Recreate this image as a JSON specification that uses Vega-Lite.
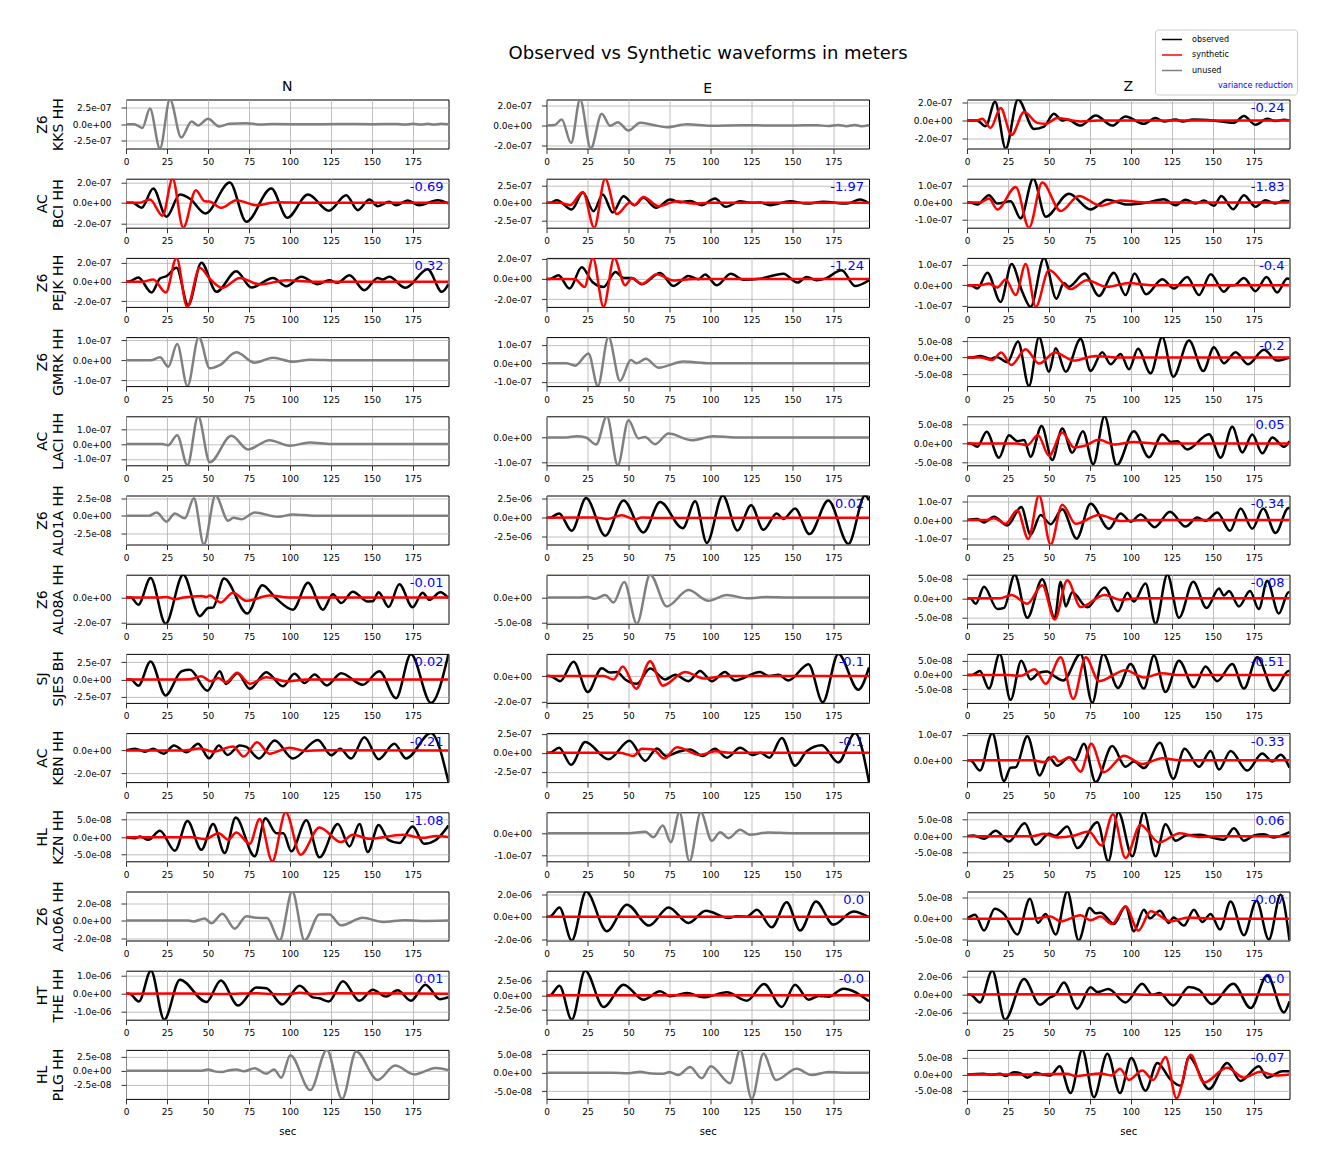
{
"$schema":"https://vega.github.io/schema/vega-lite/v6.json",
"autosize":{"type":"pad"},
"padding":{"left":34,"top":28.5,"right":10,"bottom":10},
"background":"white",
"title":{"text":"Observed vs Synthetic waveforms in meters","fontSize":18,"fontWeight":"normal","font":"DejaVu Sans","color":"black","anchor":"middle","offset":4,"dx":42,"dy":38},
"config":{"font":"DejaVu Sans","view":{"stroke":"black","strokeWidth":1},
"axis":{"grid":true,"gridColor":"#b0b0b0","gridWidth":0.8,"domain":false,"tickColor":"black","tickSize":5,"tickWidth":0.8,"labelFontSize":9,"labelColor":"black","labelPadding":4,"titleFontWeight":"normal","titleColor":"black","titleFontSize":14,"titleLineHeight":16,"titlePadding":7,"labelFlush":false,"labelOverlap":false},
"axisY":{"labelPadding":10}},
"datasets":{
"vr":[{"p":"r2N","vr":"-0.69"},{"p":"r3N","vr":"0.32"},{"p":"r7N","vr":"-0.01"},{"p":"r8N","vr":"0.02"},{"p":"r9N","vr":"-0.21"},{"p":"r10N","vr":"-1.08"},{"p":"r12N","vr":"0.01"},{"p":"r2E","vr":"-1.97"},{"p":"r3E","vr":"-1.24"},{"p":"r6E","vr":"0.02"},{"p":"r8E","vr":"-0.1"},{"p":"r9E","vr":"-0.1"},{"p":"r11E","vr":"0.0"},{"p":"r12E","vr":"-0.0"},{"p":"r1Z","vr":"-0.24"},{"p":"r2Z","vr":"-1.83"},{"p":"r3Z","vr":"-0.4"},{"p":"r4Z","vr":"-0.2"},{"p":"r5Z","vr":"0.05"},{"p":"r6Z","vr":"-0.34"},{"p":"r7Z","vr":"-0.08"},{"p":"r8Z","vr":"-0.51"},{"p":"r9Z","vr":"-0.33"},{"p":"r10Z","vr":"0.06"},{"p":"r11Z","vr":"-0.07"},{"p":"r12Z","vr":"-0.0"},{"p":"r13Z","vr":"-0.07"}],
"r1N_u":[{"t":0,"v":0},{"t":5,"v":0},{"t":10,"v":-0.56e-7},{"t":14.6,"v":2.35e-7},{"t":20.7,"v":-3.67e-7},{"t":26.8,"v":3.72e-7},{"t":33.7,"v":-2.0e-7},{"t":40,"v":0.4e-7},{"t":44,"v":-0.2e-7},{"t":50,"v":0.8e-7},{"t":56.8,"v":-0.35e-7},{"t":63,"v":0.05e-7},{"t":73.4,"v":0.15e-7},{"t":82,"v":-0.05e-7},{"t":90,"v":0.03e-7},{"t":110,"v":-0.03e-7},{"t":130,"v":0.02e-7},{"t":150,"v":0},{"t":165,"v":0.03e-7},{"t":170,"v":-0.05e-7},{"t":175,"v":0.05e-7},{"t":180,"v":-0.06e-7},{"t":184,"v":0.06e-7},{"t":188,"v":-0.06e-7},{"t":192,"v":0.06e-7},{"t":196.7,"v":-0.03e-7}],
"r2N_o":[{"t":0,"v":0},{"t":4,"v":0},{"t":9.5,"v":-0.48e-7},{"t":16.6,"v":1.39e-7},{"t":24.7,"v":-1.35e-7},{"t":32.9,"v":0.8e-7},{"t":39,"v":0.4e-7},{"t":48.5,"v":-1.03e-7},{"t":63.3,"v":1.97e-7},{"t":73.4,"v":-1.84e-7},{"t":88.6,"v":1.39e-7},{"t":98.4,"v":-1.45e-7},{"t":111,"v":0.8e-7},{"t":123.7,"v":-0.77e-7},{"t":134.3,"v":0.74e-7},{"t":141.4,"v":-0.71e-7},{"t":148.5,"v":0.32e-7},{"t":153.5,"v":-0.32e-7},{"t":160.6,"v":0.1e-7},{"t":164.7,"v":-0.23e-7},{"t":171.8,"v":0.23e-7},{"t":178.9,"v":-0.23e-7},{"t":190,"v":0.26e-7},{"t":196.7,"v":-0.06e-7}],
"r2N_s":[{"t":0,"v":0},{"t":8,"v":0},{"t":14.6,"v":0.32e-7},{"t":22.3,"v":-1.26e-7},{"t":28.4,"v":2.35e-7},{"t":34.9,"v":-2.42e-7},{"t":42.6,"v":1.23e-7},{"t":48,"v":0.15e-7},{"t":51,"v":0.12e-7},{"t":58.2,"v":-0.48e-7},{"t":67.3,"v":0.26e-7},{"t":79.5,"v":-0.23e-7},{"t":92,"v":0.06e-7},{"t":110,"v":0},{"t":196.7,"v":0}],
"r3N_o":[{"t":0,"v":0},{"t":3,"v":0.1e-7},{"t":7.5,"v":0.45e-7},{"t":15.6,"v":-1.1e-7},{"t":20.7,"v":0.34e-7},{"t":24.7,"v":0.59e-7},{"t":30.8,"v":1.45e-7},{"t":37.9,"v":-2.41e-7},{"t":46,"v":1.97e-7},{"t":55.2,"v":-1.03e-7},{"t":67.3,"v":1.1e-7},{"t":76.5,"v":-0.59e-7},{"t":89.7,"v":0.41e-7},{"t":97.8,"v":-0.45e-7},{"t":106.9,"v":0.52e-7},{"t":117,"v":-0.24e-7},{"t":124,"v":0.17e-7},{"t":129,"v":-0.1e-7},{"t":136.3,"v":0.69e-7},{"t":145.4,"v":-0.86e-7},{"t":153.5,"v":0.41e-7},{"t":156.4,"v":0.24e-7},{"t":160.6,"v":0.52e-7},{"t":170.4,"v":-0.62e-7},{"t":184,"v":1.31e-7},{"t":192.7,"v":-1.03e-7},{"t":196.7,"v":-0.24e-7}],
"r3N_s":[{"t":0,"v":0},{"t":10,"v":0.02e-7},{"t":16.6,"v":0.24e-7},{"t":24.3,"v":-1.1e-7},{"t":30.8,"v":2.48e-7},{"t":37.3,"v":-2.59e-7},{"t":45,"v":1.45e-7},{"t":51,"v":0.34e-7},{"t":58.8,"v":-0.62e-7},{"t":69.4,"v":0.41e-7},{"t":81.5,"v":-0.28e-7},{"t":97.8,"v":0.17e-7},{"t":115,"v":0},{"t":196.7,"v":0}],
"r4N_u":[{"t":0,"v":0},{"t":15,"v":0},{"t":20.7,"v":0.15e-7},{"t":25.8,"v":-0.32e-7},{"t":31.2,"v":0.81e-7},{"t":37.5,"v":-1.29e-7},{"t":44.4,"v":1.16e-7},{"t":51.1,"v":-0.4e-7},{"t":57.2,"v":-0.24e-7},{"t":67.3,"v":0.4e-7},{"t":78.5,"v":-0.12e-7},{"t":89.7,"v":0.13e-7},{"t":101.8,"v":-0.07e-7},{"t":112,"v":0.03e-7},{"t":130,"v":0},{"t":196.7,"v":0}],
"r5N_u":[{"t":0,"v":0},{"t":22,"v":0},{"t":25.8,"v":-0.07e-7},{"t":31.2,"v":0.61e-7},{"t":37.5,"v":-1.44e-7},{"t":44,"v":1.89e-7},{"t":51.1,"v":-1.24e-7},{"t":64.3,"v":0.56e-7},{"t":74.4,"v":-0.36e-7},{"t":87.6,"v":0.27e-7},{"t":99.8,"v":-0.11e-7},{"t":112,"v":0.11e-7},{"t":125,"v":0},{"t":196.7,"v":0}],
"r6N_u":[{"t":0,"v":0},{"t":14,"v":0},{"t":18.7,"v":0.47e-8},{"t":24.7,"v":-0.84e-8},{"t":29.8,"v":0.33e-8},{"t":35.9,"v":-0.37e-8},{"t":41.4,"v":2.52e-8},{"t":47.5,"v":-4.11e-8},{"t":54.6,"v":2.9e-8},{"t":62.3,"v":-0.7e-8},{"t":65.5,"v":-0.3e-8},{"t":70.5,"v":-0.5e-8},{"t":78.5,"v":0.47e-8},{"t":92.7,"v":-0.14e-8},{"t":101.8,"v":0.19e-8},{"t":115,"v":0},{"t":196.7,"v":0}],
"r7N_o":[{"t":0,"v":0},{"t":3,"v":0},{"t":7.5,"v":-0.57e-7},{"t":15,"v":1.56e-7},{"t":24.1,"v":-2.08e-7},{"t":34.9,"v":1.82e-7},{"t":45,"v":-1.48e-7},{"t":50.1,"v":-0.83e-7},{"t":53,"v":-0.8e-7},{"t":59.8,"v":1.51e-7},{"t":74,"v":-1.27e-7},{"t":83.2,"v":0.99e-7},{"t":91,"v":0},{"t":101.8,"v":-0.96e-7},{"t":111,"v":1.17e-7},{"t":120.1,"v":-0.96e-7},{"t":126.2,"v":0.26e-7},{"t":131.2,"v":-0.44e-7},{"t":138.3,"v":0.47e-7},{"t":147.5,"v":-0.31e-7},{"t":150.5,"v":-0.3e-7},{"t":154.1,"v":0.42e-7},{"t":160.2,"v":-0.75e-7},{"t":166.7,"v":1.06e-7},{"t":174.8,"v":-0.78e-7},{"t":180.9,"v":0.39e-7},{"t":185,"v":-0.18e-7},{"t":191.7,"v":0.42e-7},{"t":196.7,"v":-0.05e-7}],
"r7N_s":[{"t":0,"v":0},{"t":20,"v":0},{"t":24.7,"v":0.05e-7},{"t":29.8,"v":-0.13e-7},{"t":35,"v":0},{"t":46,"v":0.13e-7},{"t":49,"v":0.05e-7},{"t":51.1,"v":0.16e-7},{"t":57.8,"v":-0.39e-7},{"t":65.3,"v":0.39e-7},{"t":73.4,"v":-0.26e-7},{"t":87.6,"v":0.16e-7},{"t":100,"v":0},{"t":196.7,"v":0}],
"r8N_o":[{"t":0,"v":0},{"t":3,"v":0},{"t":7.5,"v":-0.87e-7},{"t":15,"v":2.62e-7},{"t":24.1,"v":-2.28e-7},{"t":33.9,"v":1.21e-7},{"t":39,"v":1.41e-7},{"t":49.7,"v":-1.6e-7},{"t":57.2,"v":1.21e-7},{"t":60.9,"v":-0.63e-7},{"t":68,"v":0.92e-7},{"t":75.5,"v":-1.31e-7},{"t":85.6,"v":1.07e-7},{"t":95.7,"v":-0.97e-7},{"t":102.8,"v":0.83e-7},{"t":108.9,"v":-0.49e-7},{"t":115,"v":0.73e-7},{"t":122.5,"v":-0.83e-7},{"t":131.2,"v":0.92e-7},{"t":144.4,"v":-0.73e-7},{"t":154.5,"v":1.21e-7},{"t":164.7,"v":-2.67e-7},{"t":173.8,"v":3.64e-7},{"t":186,"v":-3.35e-7},{"t":196.7,"v":3.7e-7}],
"r8N_s":[{"t":0,"v":0},{"t":30,"v":0},{"t":39,"v":0.05e-7},{"t":46,"v":0.49e-7},{"t":51.7,"v":-0.24e-7},{"t":56.4,"v":0.24e-7},{"t":60.9,"v":-0.39e-7},{"t":67.8,"v":0.97e-7},{"t":75.5,"v":-0.58e-7},{"t":85.6,"v":0.34e-7},{"t":97.8,"v":-0.24e-7},{"t":110,"v":0},{"t":196.7,"v":0}],
"r9N_o":[{"t":0,"v":0},{"t":5.5,"v":0.14e-7},{"t":11.6,"v":-0.11e-7},{"t":16.6,"v":0.14e-7},{"t":23.1,"v":-0.29e-7},{"t":29.2,"v":0.43e-7},{"t":36.9,"v":-0.17e-7},{"t":44,"v":0.57e-7},{"t":50.7,"v":-0.69e-7},{"t":56.6,"v":0.43e-7},{"t":61.9,"v":-0.4e-7},{"t":69.4,"v":0.43e-7},{"t":73.4,"v":0.3e-7},{"t":81.1,"v":-0.71e-7},{"t":90.7,"v":0.86e-7},{"t":101.8,"v":-0.71e-7},{"t":117,"v":0.91e-7},{"t":125.2,"v":-0.43e-7},{"t":130.6,"v":0.14e-7},{"t":137.3,"v":-0.71e-7},{"t":145.4,"v":1.14e-7},{"t":154.1,"v":-0.77e-7},{"t":163.7,"v":0.57e-7},{"t":170.8,"v":-0.71e-7},{"t":186,"v":1.51e-7},{"t":196.7,"v":-2.77e-7}],
"r9N_s":[{"t":0,"v":0},{"t":35,"v":0},{"t":45,"v":0.17e-7},{"t":53.1,"v":-0.11e-7},{"t":65.3,"v":0.34e-7},{"t":71.8,"v":-0.54e-7},{"t":79.9,"v":0.71e-7},{"t":87.6,"v":-0.29e-7},{"t":99.8,"v":0.23e-7},{"t":109.9,"v":-0.06e-7},{"t":120,"v":0.02e-7},{"t":196.7,"v":0}],
"r10N_o":[{"t":0,"v":0},{"t":5.5,"v":-0.3e-8},{"t":8.5,"v":0.2e-8},{"t":13.6,"v":-0.75e-8},{"t":20.7,"v":1.79e-8},{"t":29.8,"v":-3.87e-8},{"t":37.5,"v":4.62e-8},{"t":46,"v":-3.58e-8},{"t":53.1,"v":3.77e-8},{"t":60.2,"v":-4.53e-8},{"t":66.9,"v":5.57e-8},{"t":78.5,"v":-5.47e-8},{"t":85,"v":5.38e-8},{"t":91.7,"v":1.13e-8},{"t":96,"v":1.1e-8},{"t":100.8,"v":-4.06e-8},{"t":110,"v":4.81e-8},{"t":118,"v":-5.75e-8},{"t":129.2,"v":3.77e-8},{"t":136.3,"v":-2.64e-8},{"t":142.4,"v":3.77e-8},{"t":147.5,"v":-4.25e-8},{"t":154.1,"v":3.49e-8},{"t":160,"v":-0.8e-8},{"t":166.7,"v":-1.7e-8},{"t":174.8,"v":3.02e-8},{"t":181.9,"v":-1.89e-8},{"t":189,"v":-0.8e-8},{"t":196.7,"v":3.3e-8}],
"r10N_s":[{"t":0,"v":0},{"t":40,"v":0},{"t":48,"v":-0.57e-8},{"t":56.6,"v":1.13e-8},{"t":62.3,"v":-0.75e-8},{"t":67.3,"v":1.32e-8},{"t":75.5,"v":-1.89e-8},{"t":81.5,"v":5.19e-8},{"t":89.2,"v":-6.89e-8},{"t":97.4,"v":7.08e-8},{"t":106.5,"v":-5.0e-8},{"t":118,"v":2.74e-8},{"t":131.2,"v":-1.42e-8},{"t":138.3,"v":0.66e-8},{"t":148.5,"v":-0.47e-8},{"t":168.8,"v":0.66e-8},{"t":180.9,"v":-0.2e-8},{"t":189,"v":0.3e-8},{"t":196.7,"v":0}],
"r11N_u":[{"t":0,"v":0},{"t":38,"v":0},{"t":41,"v":-0.1e-8},{"t":48,"v":0.23e-8},{"t":52.1,"v":-0.31e-8},{"t":58.8,"v":0.77e-8},{"t":66.3,"v":-0.92e-8},{"t":73.4,"v":0.5e-8},{"t":79.5,"v":0.31e-8},{"t":86,"v":0.3e-8},{"t":93.7,"v":-2.27e-8},{"t":101.4,"v":3.31e-8},{"t":108.9,"v":-2.27e-8},{"t":118,"v":0.69e-8},{"t":124,"v":0.69e-8},{"t":131.2,"v":-0.54e-8},{"t":144.4,"v":0.31e-8},{"t":156.6,"v":-0.15e-8},{"t":170,"v":0.05e-8},{"t":180,"v":-0.05e-8},{"t":196.7,"v":0}],
"r12N_o":[{"t":0,"v":0},{"t":2,"v":0},{"t":7.9,"v":-0.43e-6},{"t":15.2,"v":1.28e-6},{"t":23.3,"v":-1.44e-6},{"t":32.9,"v":0.78e-6},{"t":49.1,"v":-0.46e-6},{"t":57.8,"v":0.74e-6},{"t":68.4,"v":-0.65e-6},{"t":79.5,"v":0.35e-6},{"t":85.6,"v":0.31e-6},{"t":95.3,"v":-0.59e-6},{"t":105.9,"v":0.44e-6},{"t":114,"v":-0.2e-6},{"t":118,"v":-0.25e-6},{"t":123.7,"v":-0.43e-6},{"t":132.3,"v":0.69e-6},{"t":142.4,"v":-0.39e-6},{"t":150.5,"v":0.22e-6},{"t":158.6,"v":-0.15e-6},{"t":165.7,"v":0.19e-6},{"t":173.8,"v":-0.39e-6},{"t":182.6,"v":0.5e-6},{"t":191.5,"v":-0.3e-6},{"t":196.7,"v":-0.19e-6}],
"r12N_s":[{"t":0,"v":0},{"t":40,"v":0.02e-6},{"t":60,"v":-0.01e-6},{"t":80,"v":0.03e-6},{"t":90,"v":-0.02e-6},{"t":98,"v":-0.03e-6},{"t":106,"v":0.06e-6},{"t":115,"v":-0.02e-6},{"t":125,"v":0.03e-6},{"t":196.7,"v":0}],
"r13N_u":[{"t":0,"v":0},{"t":45,"v":0},{"t":50.1,"v":0.23e-8},{"t":54,"v":-0.1e-8},{"t":58.2,"v":-0.23e-8},{"t":63,"v":0.1e-8},{"t":67.3,"v":0.23e-8},{"t":72,"v":-0.1e-8},{"t":78.5,"v":0.47e-8},{"t":85.6,"v":-0.52e-8},{"t":90.3,"v":0.23e-8},{"t":94.7,"v":-1.22e-8},{"t":100.2,"v":2.79e-8},{"t":112.4,"v":-3.43e-8},{"t":122.5,"v":3.72e-8},{"t":131.8,"v":-5.0e-8},{"t":140.4,"v":3.43e-8},{"t":153.5,"v":-1.63e-8},{"t":164.1,"v":0.93e-8},{"t":175.9,"v":-0.64e-8},{"t":189,"v":0.52e-8},{"t":196.7,"v":0.1e-8}],
"r1E_u":[{"t":0,"v":0},{"t":5,"v":0.05e-7},{"t":9.3,"v":0.6e-7},{"t":15,"v":-1.73e-7},{"t":20.5,"v":2.57e-7},{"t":27,"v":-2.27e-7},{"t":33.7,"v":1.17e-7},{"t":38.8,"v":-0.03e-7},{"t":43.5,"v":0.33e-7},{"t":50,"v":-0.5e-7},{"t":57.1,"v":0.27e-7},{"t":65,"v":0.05e-7},{"t":73.4,"v":-0.17e-7},{"t":85.6,"v":0.13e-7},{"t":100,"v":-0.02e-7},{"t":120,"v":0.02e-7},{"t":150,"v":0},{"t":165,"v":0.03e-7},{"t":172,"v":-0.05e-7},{"t":178,"v":0.05e-7},{"t":183,"v":-0.06e-7},{"t":188,"v":0.06e-7},{"t":192,"v":-0.06e-7},{"t":196.7,"v":0.03e-7}],
"r2E_o":[{"t":0,"v":0},{"t":2,"v":0},{"t":6.3,"v":0.38e-7},{"t":15.4,"v":-0.94e-7},{"t":22.2,"v":1.46e-7},{"t":28.7,"v":-1.18e-7},{"t":34.3,"v":1.18e-7},{"t":40.4,"v":-1.37e-7},{"t":47,"v":0.94e-7},{"t":53.7,"v":-0.33e-7},{"t":59.1,"v":0.71e-7},{"t":66.9,"v":-0.71e-7},{"t":75.4,"v":0.47e-7},{"t":81.5,"v":0.1e-7},{"t":87.6,"v":0.28e-7},{"t":94.7,"v":-0.33e-7},{"t":102.8,"v":0.61e-7},{"t":109.3,"v":-0.57e-7},{"t":118.1,"v":0.24e-7},{"t":124.2,"v":0},{"t":130.3,"v":0.05e-7},{"t":136.4,"v":-0.33e-7},{"t":148.6,"v":0.24e-7},{"t":158.7,"v":-0.1e-7},{"t":168.9,"v":0.15e-7},{"t":183.1,"v":-0.1e-7},{"t":191.3,"v":0.47e-7},{"t":196.7,"v":-0.1e-7}],
"r2E_s":[{"t":0,"v":0},{"t":8,"v":0},{"t":14.4,"v":-0.33e-7},{"t":22.2,"v":1.56e-7},{"t":29.1,"v":-3.54e-7},{"t":35.8,"v":3.44e-7},{"t":42.9,"v":-1.6e-7},{"t":51,"v":0.05e-7},{"t":53.5,"v":-0.33e-7},{"t":59.1,"v":0.85e-7},{"t":68.3,"v":-0.47e-7},{"t":79.5,"v":0.24e-7},{"t":89.6,"v":-0.1e-7},{"t":100,"v":0},{"t":196.7,"v":0}],
"r3E_o":[{"t":0,"v":0},{"t":2,"v":0},{"t":7.3,"v":0.36e-7},{"t":14,"v":-0.95e-7},{"t":21.5,"v":1.15e-7},{"t":28,"v":-0.3e-7},{"t":34.8,"v":-0.79e-7},{"t":42.1,"v":0.69e-7},{"t":47,"v":0.1e-7},{"t":52,"v":0.1e-7},{"t":58.1,"v":-0.52e-7},{"t":69.3,"v":0.59e-7},{"t":77.4,"v":-0.69e-7},{"t":86.6,"v":0.3e-7},{"t":92.7,"v":-0.03e-7},{"t":96.7,"v":0.43e-7},{"t":103.9,"v":-0.62e-7},{"t":112.4,"v":0.52e-7},{"t":120.1,"v":-0.07e-7},{"t":130.3,"v":0.03e-7},{"t":144.5,"v":0.52e-7},{"t":153,"v":-0.36e-7},{"t":158.7,"v":0.2e-7},{"t":164.8,"v":-0.13e-7},{"t":170,"v":0.03e-7},{"t":180,"v":0.85e-7},{"t":188.2,"v":-0.69e-7},{"t":196.7,"v":-0.13e-7}],
"r3E_s":[{"t":0,"v":0},{"t":12,"v":0},{"t":17.5,"v":-0.03e-7},{"t":23.2,"v":-0.79e-7},{"t":28.3,"v":2.07e-7},{"t":34.8,"v":-2.75e-7},{"t":41.3,"v":2.07e-7},{"t":48,"v":-0.62e-7},{"t":52,"v":0.1e-7},{"t":58.1,"v":-0.49e-7},{"t":67.3,"v":0.46e-7},{"t":77.4,"v":-0.16e-7},{"t":90,"v":0},{"t":196.7,"v":0}],
"r4E_u":[{"t":0,"v":0},{"t":12,"v":0},{"t":17.5,"v":-0.13e-7},{"t":25.6,"v":0.53e-7},{"t":31.3,"v":-1.24e-7},{"t":37.8,"v":1.42e-7},{"t":44.9,"v":-0.96e-7},{"t":51.4,"v":0.18e-7},{"t":55,"v":0},{"t":60.6,"v":0.24e-7},{"t":68.3,"v":-0.24e-7},{"t":83.5,"v":0.09e-7},{"t":100,"v":0},{"t":196.7,"v":0}],
"r5E_u":[{"t":0,"v":0},{"t":12,"v":0},{"t":18.5,"v":0.05e-7},{"t":24,"v":0},{"t":30.3,"v":-0.28e-7},{"t":36.8,"v":0.85e-7},{"t":43.5,"v":-1.12e-7},{"t":50,"v":0.69e-7},{"t":56.1,"v":-0.04e-7},{"t":60,"v":0.02e-7},{"t":66.3,"v":-0.27e-7},{"t":74.4,"v":0.16e-7},{"t":88.6,"v":-0.11e-7},{"t":101.8,"v":0.05e-7},{"t":115,"v":0},{"t":196.7,"v":0}],
"r6E_o":[{"t":0,"v":0},{"t":2,"v":0},{"t":7.7,"v":0.56e-6},{"t":15.4,"v":-1.72e-6},{"t":24.2,"v":2.59e-6},{"t":35.8,"v":-2.37e-6},{"t":47,"v":2.28e-6},{"t":59.1,"v":-1.94e-6},{"t":69.3,"v":2.07e-6},{"t":83.1,"v":-1.38e-6},{"t":90.7,"v":2.16e-6},{"t":97.8,"v":-3.32e-6},{"t":107.5,"v":2.93e-6},{"t":116.5,"v":-1.68e-6},{"t":124.8,"v":1.64e-6},{"t":132.3,"v":-1.6e-6},{"t":140.4,"v":0.56e-6},{"t":144.5,"v":-0.17e-6},{"t":151.6,"v":1.21e-6},{"t":160.4,"v":-2.16e-6},{"t":171.9,"v":2.28e-6},{"t":184.1,"v":-3.45e-6},{"t":194.3,"v":2.93e-6},{"t":196.7,"v":2.3e-6}],
"r6E_s":[{"t":0,"v":0},{"t":30,"v":0.02e-6},{"t":36.8,"v":-0.17e-6},{"t":45.9,"v":0.34e-6},{"t":54.1,"v":-0.22e-6},{"t":58,"v":0.04e-6},{"t":70,"v":-0.02e-6},{"t":196.7,"v":0}],
"r7E_u":[{"t":0,"v":0},{"t":20,"v":0},{"t":25,"v":0.1e-8},{"t":29.7,"v":-0.25e-8},{"t":35.8,"v":0.52e-8},{"t":40.9,"v":-0.97e-8},{"t":47.4,"v":3.12e-8},{"t":55.1,"v":-5.19e-8},{"t":63.2,"v":4.55e-8},{"t":73.4,"v":-1.75e-8},{"t":86.6,"v":1.49e-8},{"t":98.8,"v":-0.65e-8},{"t":110,"v":0.52e-8},{"t":122.2,"v":-0.15e-8},{"t":134.3,"v":0.12e-8},{"t":150,"v":0},{"t":196.7,"v":0}],
"r8E_o":[{"t":0,"v":0},{"t":2,"v":0},{"t":8.3,"v":-0.4e-7},{"t":16.5,"v":1.12e-7},{"t":25.2,"v":-1.25e-7},{"t":33.7,"v":0.61e-7},{"t":38.8,"v":0.27e-7},{"t":42.9,"v":0.32e-7},{"t":48,"v":-0.27e-7},{"t":55.1,"v":-0.61e-7},{"t":63.2,"v":0.59e-7},{"t":72.4,"v":-0.27e-7},{"t":78.5,"v":0.1e-7},{"t":86.6,"v":-0.4e-7},{"t":93.7,"v":0.4e-7},{"t":100.8,"v":-0.4e-7},{"t":108.9,"v":0.32e-7},{"t":115,"v":-0.35e-7},{"t":130.3,"v":0.32e-7},{"t":135.4,"v":0},{"t":141.5,"v":0.1e-7},{"t":147.6,"v":-0.35e-7},{"t":159.8,"v":0.93e-7},{"t":168.5,"v":-2.05e-7},{"t":178,"v":1.73e-7},{"t":190.2,"v":-1.07e-7},{"t":196.7,"v":0.67e-7}],
"r8E_s":[{"t":0,"v":0},{"t":35,"v":0},{"t":40.9,"v":-0.27e-7},{"t":46.5,"v":0.75e-7},{"t":54.7,"v":-0.99e-7},{"t":63.2,"v":1.15e-7},{"t":70.9,"v":-0.75e-7},{"t":84.6,"v":0.32e-7},{"t":95.7,"v":-0.19e-7},{"t":110,"v":0},{"t":196.7,"v":0}],
"r9E_o":[{"t":0,"v":0},{"t":2,"v":0},{"t":7.7,"v":0.65e-7},{"t":15,"v":-1.59e-7},{"t":23.6,"v":1.42e-7},{"t":37.8,"v":-0.86e-7},{"t":50.6,"v":1.59e-7},{"t":60.2,"v":-1.08e-7},{"t":67.3,"v":0.56e-7},{"t":73,"v":-0.43e-7},{"t":80,"v":0.1e-7},{"t":87.6,"v":0.43e-7},{"t":95.3,"v":-0.43e-7},{"t":102.8,"v":0.52e-7},{"t":110,"v":-0.65e-7},{"t":118.1,"v":0.65e-7},{"t":125.8,"v":-0.3e-7},{"t":130.5,"v":0},{"t":136,"v":-0.65e-7},{"t":143.5,"v":1.94e-7},{"t":151.6,"v":-1.72e-7},{"t":158.7,"v":0.2e-7},{"t":167.9,"v":0.99e-7},{"t":178,"v":-1.29e-7},{"t":188.2,"v":2.59e-7},{"t":196.7,"v":-3.88e-7}],
"r9E_s":[{"t":0,"v":0},{"t":45,"v":0},{"t":53,"v":-0.43e-7},{"t":58.1,"v":0.52e-7},{"t":65.2,"v":0.43e-7},{"t":71.7,"v":-0.78e-7},{"t":79.5,"v":0.73e-7},{"t":93.7,"v":-0.3e-7},{"t":102.8,"v":0.2e-7},{"t":112,"v":0},{"t":196.7,"v":0}],
"r10E_u":[{"t":0,"v":0},{"t":50,"v":0},{"t":60.2,"v":0.07e-7},{"t":65.2,"v":-0.18e-7},{"t":70.9,"v":0.34e-7},{"t":75.8,"v":-0.4e-7},{"t":81.1,"v":0.93e-7},{"t":87.2,"v":-1.25e-7},{"t":94.1,"v":0.93e-7},{"t":100.8,"v":-0.34e-7},{"t":105.9,"v":0.04e-7},{"t":111,"v":-0.22e-7},{"t":118.1,"v":0.15e-7},{"t":124,"v":-0.07e-7},{"t":135,"v":0.03e-7},{"t":150,"v":0},{"t":196.7,"v":0}],
"r11E_o":[{"t":0,"v":0},{"t":2,"v":0},{"t":7.9,"v":0.83e-6},{"t":15.4,"v":-2.13e-6},{"t":24.2,"v":2.25e-6},{"t":36.8,"v":-1.3e-6},{"t":49,"v":1.07e-6},{"t":62.6,"v":-0.8e-6},{"t":74.4,"v":0.83e-6},{"t":86.6,"v":-0.56e-6},{"t":97.2,"v":0.53e-6},{"t":111,"v":-0.12e-6},{"t":116,"v":0.03e-6},{"t":122.2,"v":0},{"t":128.3,"v":0.62e-6},{"t":137.4,"v":-0.95e-6},{"t":146.5,"v":1.3e-6},{"t":154.7,"v":-1.24e-6},{"t":164.4,"v":1.36e-6},{"t":175,"v":-0.71e-6},{"t":187.2,"v":0.47e-6},{"t":196.7,"v":-0.05e-6}],
"r11E_s":[{"t":0,"v":0},{"t":196.7,"v":0}],
"r12E_o":[{"t":0,"v":0},{"t":2,"v":0},{"t":7.9,"v":1.67e-6},{"t":15.4,"v":-4.2e-6},{"t":23.6,"v":4.25e-6},{"t":34.8,"v":-2.01e-6},{"t":47,"v":1.84e-6},{"t":59.1,"v":-0.75e-6},{"t":69.3,"v":0.69e-6},{"t":75.4,"v":-0.15e-6},{"t":85.6,"v":0.4e-6},{"t":95.7,"v":-0.34e-6},{"t":110,"v":0.52e-6},{"t":122.2,"v":-0.92e-6},{"t":132.7,"v":1.95e-6},{"t":143.5,"v":-2.01e-6},{"t":151.6,"v":1.84e-6},{"t":159.8,"v":-0.75e-6},{"t":166,"v":-0.1e-6},{"t":172,"v":-0.25e-6},{"t":181.1,"v":1.15e-6},{"t":196.7,"v":-1.03e-6}],
"r12E_s":[{"t":0,"v":0},{"t":196.7,"v":0}],
"r13E_u":[{"t":0,"v":0},{"t":40,"v":0},{"t":50,"v":-0.1e-8},{"t":57.1,"v":0.25e-8},{"t":64,"v":-0.2e-8},{"t":71.3,"v":-0.25e-8},{"t":75,"v":0.2e-8},{"t":80.5,"v":-0.62e-8},{"t":87.6,"v":1.59e-8},{"t":94.7,"v":-1.5e-8},{"t":100.2,"v":1.77e-8},{"t":112,"v":-2.83e-8},{"t":118.1,"v":6.19e-8},{"t":125.2,"v":-7.08e-8},{"t":132.3,"v":5.13e-8},{"t":140,"v":-1.95e-8},{"t":152.6,"v":1.06e-8},{"t":161.8,"v":-0.62e-8},{"t":172,"v":0.2e-8},{"t":185,"v":0},{"t":196.7,"v":0}],
"r1Z_o":[{"t":0,"v":0},{"t":6,"v":0},{"t":11.4,"v":-0.63e-7},{"t":17.1,"v":2.04e-7},{"t":23.6,"v":-3.07e-7},{"t":31.1,"v":2.3e-7},{"t":40.9,"v":-0.93e-7},{"t":47,"v":-0.67e-7},{"t":53,"v":0.74e-7},{"t":58.1,"v":0},{"t":61,"v":0.1e-7},{"t":69.3,"v":-0.56e-7},{"t":78.5,"v":0.56e-7},{"t":88.6,"v":-0.56e-7},{"t":96.7,"v":0.44e-7},{"t":107.9,"v":-0.37e-7},{"t":115,"v":0.26e-7},{"t":120,"v":-0.1e-7},{"t":127.2,"v":0.1e-7},{"t":131.5,"v":-0.1e-7},{"t":138,"v":0.1e-7},{"t":150,"v":0},{"t":162.8,"v":-0.26e-7},{"t":168.9,"v":0.48e-7},{"t":176,"v":-0.48e-7},{"t":183.1,"v":0.19e-7},{"t":188,"v":-0.05e-7},{"t":193.3,"v":0.07e-7},{"t":196.7,"v":0}],
"r1Z_s":[{"t":0,"v":0},{"t":6,"v":0},{"t":9.3,"v":0.19e-7},{"t":14.4,"v":-0.81e-7},{"t":20.5,"v":1.37e-7},{"t":27.2,"v":-1.59e-7},{"t":34.8,"v":0.93e-7},{"t":42.9,"v":-0.26e-7},{"t":48,"v":-0.37e-7},{"t":55.1,"v":0.26e-7},{"t":69.3,"v":-0.1e-7},{"t":80,"v":0},{"t":196.7,"v":0}],
"r2Z_o":[{"t":0,"v":0},{"t":2,"v":0},{"t":6.3,"v":-0.12e-7},{"t":13.4,"v":0.43e-7},{"t":18.5,"v":-0.06e-7},{"t":26.6,"v":0.08e-7},{"t":32.7,"v":-0.93e-7},{"t":40.4,"v":1.4e-7},{"t":48,"v":-0.83e-7},{"t":62.2,"v":0.52e-7},{"t":75.4,"v":-0.41e-7},{"t":85.6,"v":0.17e-7},{"t":97.8,"v":-0.12e-7},{"t":110,"v":0},{"t":120.1,"v":0.19e-7},{"t":127.2,"v":-0.16e-7},{"t":133.3,"v":0.17e-7},{"t":139.5,"v":-0.06e-7},{"t":144.5,"v":0.12e-7},{"t":150.6,"v":-0.19e-7},{"t":155.1,"v":0.39e-7},{"t":162.4,"v":-0.39e-7},{"t":168.9,"v":0.43e-7},{"t":176,"v":-0.25e-7},{"t":182,"v":0.14e-7},{"t":188,"v":-0.06e-7},{"t":193.3,"v":0.1e-7},{"t":196.7,"v":0.08e-7}],
"r2Z_s":[{"t":0,"v":0},{"t":8,"v":0},{"t":13.4,"v":0.23e-7},{"t":18.5,"v":-0.41e-7},{"t":29.7,"v":0.91e-7},{"t":37.8,"v":-1.48e-7},{"t":45.9,"v":1.17e-7},{"t":57.1,"v":-0.5e-7},{"t":68.3,"v":0.39e-7},{"t":81.5,"v":-0.19e-7},{"t":93.7,"v":0.12e-7},{"t":110,"v":0},{"t":196.7,"v":0}],
"r3Z_o":[{"t":0,"v":0},{"t":2,"v":0},{"t":6.3,"v":-0.16e-7},{"t":12.4,"v":0.6e-7},{"t":20.5,"v":-0.81e-7},{"t":27.2,"v":1.02e-7},{"t":33.7,"v":-0.32e-7},{"t":38.8,"v":-1.05e-7},{"t":47,"v":1.32e-7},{"t":54.5,"v":-0.65e-7},{"t":59.1,"v":0.11e-7},{"t":62,"v":-0.08e-7},{"t":71.7,"v":0.56e-7},{"t":80.5,"v":-0.52e-7},{"t":89.6,"v":0.6e-7},{"t":96.7,"v":-0.48e-7},{"t":102.2,"v":0.56e-7},{"t":109.3,"v":-0.44e-7},{"t":119.1,"v":0.29e-7},{"t":126.2,"v":-0.16e-7},{"t":134.3,"v":0.4e-7},{"t":141.5,"v":-0.48e-7},{"t":148.6,"v":0.53e-7},{"t":156.7,"v":-0.32e-7},{"t":161,"v":0},{"t":163,"v":0},{"t":168.9,"v":0.35e-7},{"t":176,"v":-0.29e-7},{"t":182.7,"v":0.4e-7},{"t":189.2,"v":-0.35e-7},{"t":195.3,"v":0.32e-7},{"t":196.7,"v":0.3e-7}],
"r3Z_s":[{"t":0,"v":0},{"t":8,"v":0},{"t":13.4,"v":0.08e-7},{"t":18.5,"v":-0.11e-7},{"t":23.6,"v":0.27e-7},{"t":29.7,"v":-0.48e-7},{"t":35.8,"v":1.02e-7},{"t":41.9,"v":-1.05e-7},{"t":50,"v":0.73e-7},{"t":63.2,"v":-0.19e-7},{"t":73,"v":0.24e-7},{"t":85.6,"v":-0.08e-7},{"t":98.8,"v":0.11e-7},{"t":112,"v":0},{"t":196.7,"v":0}],
"r4Z_o":[{"t":0,"v":0},{"t":3,"v":0},{"t":8.3,"v":0.5e-8},{"t":14.4,"v":-0.4e-8},{"t":18,"v":0.2e-8},{"t":24.6,"v":-1.43e-8},{"t":31.1,"v":4.9e-8},{"t":37.8,"v":-8.67e-8},{"t":43.9,"v":6.22e-8},{"t":50,"v":-4.29e-8},{"t":54.1,"v":2.86e-8},{"t":60.2,"v":-4.29e-8},{"t":69.3,"v":5.61e-8},{"t":75.4,"v":-4.08e-8},{"t":82.5,"v":1.63e-8},{"t":87.6,"v":-2.04e-8},{"t":93.7,"v":1.12e-8},{"t":98.8,"v":-3.57e-8},{"t":104.3,"v":2.65e-8},{"t":112,"v":-4.8e-8},{"t":119.1,"v":6.22e-8},{"t":125.8,"v":-5.82e-8},{"t":135.4,"v":5.2e-8},{"t":144.1,"v":-4.08e-8},{"t":150.6,"v":3.16e-8},{"t":156.7,"v":-1.73e-8},{"t":163.8,"v":1.63e-8},{"t":171.5,"v":-2.04e-8},{"t":181.1,"v":2.35e-8},{"t":189.2,"v":-0.92e-8},{"t":196.7,"v":0}],
"r4Z_s":[{"t":0,"v":0},{"t":8,"v":0},{"t":15.4,"v":-0.71e-8},{"t":20.9,"v":1.53e-8},{"t":27,"v":-2.24e-8},{"t":35.8,"v":2.55e-8},{"t":43.9,"v":-1.84e-8},{"t":53.7,"v":1.53e-8},{"t":65.2,"v":-0.92e-8},{"t":78.5,"v":0.51e-8},{"t":92,"v":0},{"t":196.7,"v":0}],
"r5Z_o":[{"t":0,"v":0},{"t":2,"v":0},{"t":6.3,"v":-0.88e-8},{"t":12,"v":3.07e-8},{"t":19.5,"v":-3.77e-8},{"t":25.6,"v":2.19e-8},{"t":30.7,"v":0.61e-8},{"t":34.8,"v":0.88e-8},{"t":38.8,"v":-3.51e-8},{"t":45.5,"v":4.65e-8},{"t":52,"v":-4.39e-8},{"t":58.1,"v":3.95e-8},{"t":64.2,"v":-2.46e-8},{"t":70.7,"v":3.25e-8},{"t":77,"v":-5.53e-8},{"t":83.9,"v":7.19e-8},{"t":91.3,"v":-5.79e-8},{"t":101.8,"v":3.25e-8},{"t":111,"v":-3.68e-8},{"t":119.1,"v":2.37e-8},{"t":124.5,"v":0.4e-8},{"t":128.3,"v":0.6e-8},{"t":134.3,"v":-1.58e-8},{"t":147.6,"v":2.46e-8},{"t":154.7,"v":-3.77e-8},{"t":161.8,"v":4.39e-8},{"t":167.9,"v":-2.37e-8},{"t":174,"v":2.37e-8},{"t":180.1,"v":-2.63e-8},{"t":186.2,"v":1.58e-8},{"t":193.3,"v":-0.88e-8},{"t":196.7,"v":0.6e-8}],
"r5Z_s":[{"t":0,"v":0},{"t":30,"v":0},{"t":36.8,"v":-0.44e-8},{"t":43.3,"v":2.19e-8},{"t":50,"v":-3.25e-8},{"t":58.1,"v":2.9e-8},{"t":65.2,"v":-1.05e-8},{"t":71.3,"v":-0.7e-8},{"t":80.5,"v":0.96e-8},{"t":89.6,"v":-0.26e-8},{"t":101.8,"v":0.4e-8},{"t":115,"v":0},{"t":196.7,"v":0}],
"r6Z_o":[{"t":0,"v":0},{"t":6.3,"v":0.05e-7},{"t":10.4,"v":-0.13e-7},{"t":16.5,"v":0.18e-7},{"t":24.6,"v":-0.3e-7},{"t":33.1,"v":0.71e-7},{"t":38.8,"v":-0.8e-7},{"t":44.9,"v":0.27e-7},{"t":51,"v":-0.23e-7},{"t":58.1,"v":0.59e-7},{"t":66.9,"v":-1.02e-7},{"t":75.4,"v":0.89e-7},{"t":86.6,"v":-0.48e-7},{"t":93.7,"v":0.36e-7},{"t":99.8,"v":-0.09e-7},{"t":105.9,"v":0.3e-7},{"t":114.4,"v":-0.39e-7},{"t":123.8,"v":0.45e-7},{"t":133.3,"v":-0.36e-7},{"t":140.4,"v":0.13e-7},{"t":145.5,"v":-0.05e-7},{"t":152.6,"v":0.41e-7},{"t":160.4,"v":-0.59e-7},{"t":166.9,"v":0.63e-7},{"t":174,"v":-0.48e-7},{"t":180.7,"v":0.63e-7},{"t":188.2,"v":-0.71e-7},{"t":196.1,"v":0.66e-7},{"t":196.7,"v":0.6e-7}],
"r6Z_s":[{"t":0,"v":0},{"t":12,"v":0},{"t":16.5,"v":0.09e-7},{"t":23.6,"v":-0.21e-7},{"t":30.7,"v":0.54e-7},{"t":37.4,"v":-1.04e-7},{"t":43.9,"v":1.34e-7},{"t":51,"v":-1.34e-7},{"t":58.1,"v":0.84e-7},{"t":66.3,"v":-0.21e-7},{"t":80.5,"v":0.27e-7},{"t":93.7,"v":-0.05e-7},{"t":110,"v":0},{"t":196.7,"v":0}],
"r7Z_o":[{"t":0,"v":0},{"t":2,"v":0},{"t":5.3,"v":-1.44e-8},{"t":10.4,"v":2.97e-8},{"t":18.5,"v":-2.8e-8},{"t":22.6,"v":-2.5e-8},{"t":29.1,"v":6.1e-8},{"t":36.8,"v":-5.08e-8},{"t":45.9,"v":4.92e-8},{"t":53.5,"v":-5.08e-8},{"t":57.1,"v":4.24e-8},{"t":60.2,"v":-2.12e-8},{"t":64.2,"v":1.53e-8},{"t":73.4,"v":-2.37e-8},{"t":83.9,"v":2.8e-8},{"t":92.1,"v":-3.39e-8},{"t":97.8,"v":1.44e-8},{"t":101.8,"v":-0.85e-8},{"t":108.9,"v":3.81e-8},{"t":115,"v":-6.61e-8},{"t":122.2,"v":6.1e-8},{"t":129.3,"v":-5.08e-8},{"t":138,"v":4.24e-8},{"t":146.1,"v":-2.54e-8},{"t":153.7,"v":2.54e-8},{"t":156.7,"v":0.7e-8},{"t":159.8,"v":1.86e-8},{"t":165.9,"v":-2.12e-8},{"t":172.6,"v":1.86e-8},{"t":178,"v":-2.8e-8},{"t":183.1,"v":4.49e-8},{"t":190.2,"v":-3.98e-8},{"t":196.1,"v":1.53e-8},{"t":196.7,"v":1.4e-8}],
"r7Z_s":[{"t":0,"v":0},{"t":20,"v":0},{"t":27.2,"v":0.85e-8},{"t":36.8,"v":-1.44e-8},{"t":45.9,"v":3.39e-8},{"t":53.5,"v":-5.5e-8},{"t":61.2,"v":4.66e-8},{"t":69.3,"v":-2.29e-8},{"t":83.9,"v":0.85e-8},{"t":93.7,"v":-0.4e-8},{"t":105,"v":0},{"t":196.7,"v":0}],
"r8Z_o":[{"t":0,"v":0},{"t":3,"v":0},{"t":7.9,"v":1.45e-8},{"t":13.4,"v":-4.82e-8},{"t":19.9,"v":7.47e-8},{"t":26.6,"v":-8.8e-8},{"t":33.1,"v":5.06e-8},{"t":38.8,"v":-1.57e-8},{"t":44,"v":0.8e-8},{"t":49,"v":1.2e-8},{"t":53,"v":-0.3e-8},{"t":58.7,"v":-1.93e-8},{"t":69.3,"v":7.47e-8},{"t":76.4,"v":-9.88e-8},{"t":83.1,"v":7.47e-8},{"t":92.1,"v":-4.58e-8},{"t":99.8,"v":3.86e-8},{"t":107.9,"v":-4.82e-8},{"t":114,"v":6.87e-8},{"t":121.1,"v":-6.02e-8},{"t":129.3,"v":5.06e-8},{"t":138.4,"v":-4.34e-8},{"t":145.5,"v":3.01e-8},{"t":152.6,"v":-2.17e-8},{"t":161.8,"v":3.86e-8},{"t":168.9,"v":-4.82e-8},{"t":177,"v":6.27e-8},{"t":187.2,"v":-5.54e-8},{"t":196.1,"v":1.45e-8},{"t":196.7,"v":1.4e-8}],
"r8Z_s":[{"t":0,"v":0},{"t":25,"v":0},{"t":32.7,"v":-0.3e-8},{"t":41.3,"v":2.05e-8},{"t":48,"v":-3.13e-8},{"t":57.1,"v":6.27e-8},{"t":64.8,"v":-8.43e-8},{"t":72.4,"v":6.27e-8},{"t":80.5,"v":-2.17e-8},{"t":96.7,"v":1.69e-8},{"t":107.9,"v":-0.9e-8},{"t":119.1,"v":0.6e-8},{"t":130,"v":0},{"t":196.7,"v":0}],
"r9Z_o":[{"t":0,"v":0},{"t":2,"v":0},{"t":7.9,"v":-0.41e-7},{"t":15.4,"v":1.06e-7},{"t":22.6,"v":-0.82e-7},{"t":26.6,"v":-0.3e-7},{"t":29.7,"v":-0.28e-7},{"t":36.8,"v":0.94e-7},{"t":44.3,"v":-0.6e-7},{"t":50,"v":0.1e-7},{"t":55.1,"v":-0.22e-7},{"t":62.2,"v":0.1e-7},{"t":66,"v":0},{"t":71.3,"v":0.64e-7},{"t":78.5,"v":-0.86e-7},{"t":88.6,"v":0.55e-7},{"t":96.7,"v":-0.26e-7},{"t":101.8,"v":-0.05e-7},{"t":107.9,"v":-0.31e-7},{"t":117.7,"v":0.68e-7},{"t":125.8,"v":-0.73e-7},{"t":132.7,"v":0.45e-7},{"t":141.5,"v":-0.26e-7},{"t":148.6,"v":0.36e-7},{"t":153.7,"v":-0.37e-7},{"t":160.8,"v":0.36e-7},{"t":170.9,"v":-0.41e-7},{"t":180.1,"v":0.26e-7},{"t":186.2,"v":-0.05e-7},{"t":191.3,"v":0.21e-7},{"t":196.7,"v":-0.3e-7}],
"r9Z_s":[{"t":0,"v":0},{"t":40,"v":0},{"t":47,"v":-0.08e-7},{"t":53,"v":0.14e-7},{"t":56.1,"v":-0.05e-7},{"t":62.2,"v":0.1e-7},{"t":69.3,"v":-0.45e-7},{"t":75.8,"v":0.64e-7},{"t":83.5,"v":-0.47e-7},{"t":95.7,"v":0.17e-7},{"t":106.9,"v":-0.15e-7},{"t":119.1,"v":0.07e-7},{"t":130,"v":0},{"t":196.7,"v":0}],
"r10Z_o":[{"t":0,"v":0},{"t":4,"v":0.2e-8},{"t":10.4,"v":-0.8e-8},{"t":17.5,"v":1.62e-8},{"t":25.6,"v":-1.62e-8},{"t":35.2,"v":3.94e-8},{"t":41.9,"v":-2.63e-8},{"t":50,"v":0.71e-8},{"t":54,"v":0.1e-8},{"t":61.2,"v":2.93e-8},{"t":67.3,"v":-3.64e-8},{"t":79.5,"v":4.24e-8},{"t":86.2,"v":-7.68e-8},{"t":92.3,"v":7.27e-8},{"t":100.8,"v":-6.16e-8},{"t":107.9,"v":7.27e-8},{"t":115,"v":-6.16e-8},{"t":121.1,"v":3.64e-8},{"t":127.2,"v":-1.41e-8},{"t":134,"v":0.3e-8},{"t":142.5,"v":0.4e-8},{"t":150,"v":-0.5e-8},{"t":156.7,"v":-1.1e-8},{"t":162.8,"v":2.42e-8},{"t":168.9,"v":-1.41e-8},{"t":175,"v":0.2e-8},{"t":181.1,"v":0.6e-8},{"t":187,"v":-0.4e-8},{"t":196.7,"v":1.21e-8}],
"r10Z_s":[{"t":0,"v":0},{"t":40,"v":0},{"t":47,"v":0.71e-8},{"t":55,"v":-0.4e-8},{"t":65,"v":0.1e-8},{"t":74.4,"v":1.41e-8},{"t":81.9,"v":-2.83e-8},{"t":89,"v":6.67e-8},{"t":96.7,"v":-6.67e-8},{"t":105.9,"v":3.43e-8},{"t":117.1,"v":-1.92e-8},{"t":129.9,"v":0.91e-8},{"t":142,"v":-0.3e-8},{"t":155,"v":0},{"t":196.7,"v":0}],
"r11Z_o":[{"t":0,"v":0},{"t":4.9,"v":0.96e-8},{"t":10.4,"v":-2.88e-8},{"t":16.9,"v":2.4e-8},{"t":22.6,"v":1.1e-8},{"t":30.7,"v":-3.84e-8},{"t":38.4,"v":4.8e-8},{"t":43.3,"v":-1.04e-8},{"t":48,"v":1.12e-8},{"t":54.1,"v":-3.84e-8},{"t":61.2,"v":6.56e-8},{"t":68.1,"v":-5.28e-8},{"t":74.8,"v":2.56e-8},{"t":78.5,"v":1.3e-8},{"t":81.5,"v":1.4e-8},{"t":89.6,"v":-1.28e-8},{"t":96.7,"v":2.96e-8},{"t":101.8,"v":-3.04e-8},{"t":107.9,"v":2.16e-8},{"t":111.6,"v":0.1e-8},{"t":117.7,"v":1.92e-8},{"t":123.2,"v":-1.04e-8},{"t":126,"v":0.3e-8},{"t":132.3,"v":-1.68e-8},{"t":138.4,"v":2.16e-8},{"t":143.5,"v":-0.8e-8},{"t":148.6,"v":1.12e-8},{"t":154.3,"v":-2.64e-8},{"t":160.8,"v":4.16e-8},{"t":168.9,"v":-4.0e-8},{"t":176.6,"v":4.32e-8},{"t":184.1,"v":-5.04e-8},{"t":191.3,"v":5.76e-8},{"t":196.7,"v":-5.28e-8}],
"r11Z_s":[{"t":0,"v":0},{"t":40,"v":0},{"t":51,"v":0.5e-8},{"t":57.1,"v":-0.64e-8},{"t":69.3,"v":0.8e-8},{"t":75.4,"v":-0.4e-8},{"t":81.5,"v":0.5e-8},{"t":88.4,"v":-1.28e-8},{"t":96.7,"v":2.96e-8},{"t":104.5,"v":-2.88e-8},{"t":112,"v":1.76e-8},{"t":124.2,"v":-0.64e-8},{"t":135,"v":0.3e-8},{"t":150,"v":0},{"t":196.7,"v":0}],
"r12Z_o":[{"t":0,"v":0},{"t":2,"v":0},{"t":7.9,"v":-0.89e-6},{"t":15.4,"v":2.63e-6},{"t":23.2,"v":-2.81e-6},{"t":34.8,"v":1.7e-6},{"t":44.5,"v":-1.15e-6},{"t":50,"v":-0.4e-6},{"t":54.1,"v":0},{"t":59.1,"v":1.33e-6},{"t":67.3,"v":-1.59e-6},{"t":75.4,"v":0.78e-6},{"t":79.5,"v":0.26e-6},{"t":86.2,"v":0.59e-6},{"t":96.7,"v":-0.89e-6},{"t":106.9,"v":1.19e-6},{"t":113,"v":-0.04e-6},{"t":117.5,"v":0.15e-6},{"t":125.8,"v":-1.22e-6},{"t":135.4,"v":0.81e-6},{"t":141.5,"v":0.5e-6},{"t":149.2,"v":-1.07e-6},{"t":162.4,"v":1.19e-6},{"t":173,"v":-1.52e-6},{"t":183.1,"v":2.11e-6},{"t":193.3,"v":-2.0e-6},{"t":196.7,"v":-0.78e-6}],
"r12Z_s":[{"t":0,"v":0},{"t":100,"v":0.02e-6},{"t":110,"v":-0.05e-6},{"t":196.7,"v":0}],
"r13Z_o":[{"t":0,"v":0},{"t":10,"v":0.2e-8},{"t":15,"v":-0.1e-8},{"t":20,"v":0.2e-8},{"t":23.6,"v":-0.5e-8},{"t":28.7,"v":0.69e-8},{"t":33,"v":0.2e-8},{"t":36.8,"v":-0.99e-8},{"t":41.9,"v":0.5e-8},{"t":46,"v":0},{"t":51,"v":-0.3e-8},{"t":56.5,"v":2.48e-8},{"t":63.2,"v":-5.64e-8},{"t":70.3,"v":7.43e-8},{"t":77.4,"v":-6.93e-8},{"t":85.6,"v":6.24e-8},{"t":93.3,"v":-5.64e-8},{"t":100.2,"v":4.95e-8},{"t":108.9,"v":-4.95e-8},{"t":116.1,"v":3.47e-8},{"t":124,"v":-1.5e-8},{"t":130.3,"v":-3.47e-8},{"t":135.4,"v":5.25e-8},{"t":147.6,"v":-4.46e-8},{"t":158.7,"v":3.47e-8},{"t":166.9,"v":-1.98e-8},{"t":178,"v":2.48e-8},{"t":183.1,"v":-0.99e-8},{"t":192.3,"v":0.99e-8},{"t":196.7,"v":0.99e-8}],
"r13Z_s":[{"t":0,"v":0},{"t":40,"v":0},{"t":50,"v":0.1e-8},{"t":61.2,"v":0.2e-8},{"t":66,"v":-0.5e-8},{"t":81.5,"v":0.3e-8},{"t":88,"v":-0.3e-8},{"t":93.3,"v":1.68e-8},{"t":98.8,"v":-1.68e-8},{"t":106.9,"v":1.19e-8},{"t":113.6,"v":-1.68e-8},{"t":121.1,"v":5.25e-8},{"t":127.8,"v":-7.23e-8},{"t":136.4,"v":5.94e-8},{"t":144.5,"v":-2.48e-8},{"t":158.7,"v":1.98e-8},{"t":168.9,"v":-0.99e-8},{"t":179.1,"v":0.79e-8},{"t":188,"v":-0.3e-8},{"t":196.7,"v":0}]
},
"columns":3,
"spacing":{"row":30.2,"column":97.5},
"bounds":"flush",
"resolve":{"scale":{"x":"independent","y":"independent","color":"shared"},"axis":{"x":"independent","y":"independent"}},
"concat":[
{"width":322.5,"height":49,"title":{"text":"N","fontSize":14,"fontWeight":"normal","offset":4},"encoding":{"x":{"field":"t","type":"quantitative","scale":{"domain":[0,196.7],"nice":false,"zero":false},"axis":{"values":[0,25,50,75,100,125,150,175],"title":null}},"y":{"field":"v","type":"quantitative","scale":{"domain":[-3.67e-7,3.72e-7],"nice":false,"zero":false},"axis":{"values":[-2.5e-7,0,2.5e-7],"labelExpr":"replace(replace(replace(format(datum.value,'.1e'),'e-','e-0'),'e+','e+0'),'\u2212','-')","title":["Z6","KKS HH"]}}},"layer":[{"data":{"name":"r1N_u"},"mark":{"type":"line","color":"gray","strokeWidth":2.5,"interpolate":"monotone","clip":true}}]},
{"width":322.5,"height":49,"title":{"text":"E","fontSize":14,"fontWeight":"normal","offset":4},"encoding":{"x":{"field":"t","type":"quantitative","scale":{"domain":[0,196.7],"nice":false,"zero":false},"axis":{"values":[0,25,50,75,100,125,150,175],"title":null}},"y":{"field":"v","type":"quantitative","scale":{"domain":[-2.27e-7,2.57e-7],"nice":false,"zero":false},"axis":{"values":[-2e-7,0,2e-7],"labelExpr":"replace(replace(replace(format(datum.value,'.1e'),'e-','e-0'),'e+','e+0'),'\u2212','-')","title":null}}},"layer":[{"data":{"name":"r1E_u"},"mark":{"type":"line","color":"gray","strokeWidth":2.5,"interpolate":"monotone","clip":true}}]},
{"width":322.5,"height":49,"title":{"text":"Z","fontSize":14,"fontWeight":"normal","offset":4},"encoding":{"x":{"field":"t","type":"quantitative","scale":{"domain":[0,196.7],"nice":false,"zero":false},"axis":{"values":[0,25,50,75,100,125,150,175],"title":null}},"y":{"field":"v","type":"quantitative","scale":{"domain":[-3.07e-7,2.3e-7],"nice":false,"zero":false},"axis":{"values":[-2e-7,0,2e-7],"labelExpr":"replace(replace(replace(format(datum.value,'.1e'),'e-','e-0'),'e+','e+0'),'\u2212','-')","title":null}}},"layer":[
{"data":{"name":"r1Z_o"},"mark":{"type":"line","strokeWidth":2.5,"interpolate":"monotone","clip":true},"encoding":{"color":{"datum":"observed","type":"nominal","scale":{"domain":["observed","synthetic","unused","variance reduction"],"range":["black","red","gray","blue"]},"legend":{"title":null,"orient":"none","legendX":1029,"legendY":-70,"symbolType":"M-0.6,0H3.4","symbolStrokeWidth":1.5,"symbolSize":100,"labelFontSize":8,"labelColor":"black","labelOffset":21,"padding":4,"rowPadding":5.5,"strokeColor":"#cccccc","fillColor":"white","cornerRadius":3,"encoding":{"labels":{"fill":{"condition":{"test":"datum.label == 'variance reduction'","value":"blue"},"value":"black"},"dx":{"condition":{"test":"datum.label == 'variance reduction'","value":26},"value":0}},"symbols":{"opacity":{"condition":{"test":"datum.label == 'variance reduction'","value":0},"value":1}}}}}}},
{"data":{"name":"r1Z_s"},"mark":{"type":"line","strokeWidth":2.5,"interpolate":"monotone","clip":true},"encoding":{"color":{"datum":"synthetic","type":"nominal"}}},
{"data":{"name":"vr"},"transform":[{"filter":"datum.p=='r1Z'"}],"mark":{"type":"text","color":"blue","fontSize":13,"align":"right","baseline":"alphabetic","dx":-5,"dy":12.5},"encoding":{"x":{"value":"width"},"y":{"value":0},"text":{"field":"vr","type":"nominal"}}}]},
{"width":322.5,"height":49,"encoding":{"x":{"field":"t","type":"quantitative","scale":{"domain":[0,196.7],"nice":false,"zero":false},"axis":{"values":[0,25,50,75,100,125,150,175],"title":null}},"y":{"field":"v","type":"quantitative","scale":{"domain":[-2.42e-7,2.35e-7],"nice":false,"zero":false},"axis":{"values":[-2e-7,0,2e-7],"labelExpr":"replace(replace(replace(format(datum.value,'.1e'),'e-','e-0'),'e+','e+0'),'\u2212','-')","title":["AC","BCI HH"]}}},"layer":[{"data":{"name":"r2N_o"},"mark":{"type":"line","color":"black","strokeWidth":2.5,"interpolate":"monotone","clip":true}},{"data":{"name":"r2N_s"},"mark":{"type":"line","color":"red","strokeWidth":2.5,"interpolate":"monotone","clip":true}},{"data":{"name":"vr"},"transform":[{"filter":"datum.p=='r2N'"}],"mark":{"type":"text","color":"blue","fontSize":13,"align":"right","baseline":"alphabetic","dx":-5,"dy":12.5},"encoding":{"x":{"value":"width"},"y":{"value":0},"text":{"field":"vr","type":"nominal"}}}]},
{"width":322.5,"height":49,"encoding":{"x":{"field":"t","type":"quantitative","scale":{"domain":[0,196.7],"nice":false,"zero":false},"axis":{"values":[0,25,50,75,100,125,150,175],"title":null}},"y":{"field":"v","type":"quantitative","scale":{"domain":[-3.54e-7,3.44e-7],"nice":false,"zero":false},"axis":{"values":[-2.5e-7,0,2.5e-7],"labelExpr":"replace(replace(replace(format(datum.value,'.1e'),'e-','e-0'),'e+','e+0'),'\u2212','-')","title":null}}},"layer":[{"data":{"name":"r2E_o"},"mark":{"type":"line","color":"black","strokeWidth":2.5,"interpolate":"monotone","clip":true}},{"data":{"name":"r2E_s"},"mark":{"type":"line","color":"red","strokeWidth":2.5,"interpolate":"monotone","clip":true}},{"data":{"name":"vr"},"transform":[{"filter":"datum.p=='r2E'"}],"mark":{"type":"text","color":"blue","fontSize":13,"align":"right","baseline":"alphabetic","dx":-5,"dy":12.5},"encoding":{"x":{"value":"width"},"y":{"value":0},"text":{"field":"vr","type":"nominal"}}}]},
{"width":322.5,"height":49,"encoding":{"x":{"field":"t","type":"quantitative","scale":{"domain":[0,196.7],"nice":false,"zero":false},"axis":{"values":[0,25,50,75,100,125,150,175],"title":null}},"y":{"field":"v","type":"quantitative","scale":{"domain":[-1.48e-7,1.4e-7],"nice":false,"zero":false},"axis":{"values":[-1e-7,0,1e-7],"labelExpr":"replace(replace(replace(format(datum.value,'.1e'),'e-','e-0'),'e+','e+0'),'\u2212','-')","title":null}}},"layer":[{"data":{"name":"r2Z_o"},"mark":{"type":"line","color":"black","strokeWidth":2.5,"interpolate":"monotone","clip":true}},{"data":{"name":"r2Z_s"},"mark":{"type":"line","color":"red","strokeWidth":2.5,"interpolate":"monotone","clip":true}},{"data":{"name":"vr"},"transform":[{"filter":"datum.p=='r2Z'"}],"mark":{"type":"text","color":"blue","fontSize":13,"align":"right","baseline":"alphabetic","dx":-5,"dy":12.5},"encoding":{"x":{"value":"width"},"y":{"value":0},"text":{"field":"vr","type":"nominal"}}}]},
{"width":322.5,"height":49,"encoding":{"x":{"field":"t","type":"quantitative","scale":{"domain":[0,196.7],"nice":false,"zero":false},"axis":{"values":[0,25,50,75,100,125,150,175],"title":null}},"y":{"field":"v","type":"quantitative","scale":{"domain":[-2.59e-7,2.48e-7],"nice":false,"zero":false},"axis":{"values":[-2e-7,0,2e-7],"labelExpr":"replace(replace(replace(format(datum.value,'.1e'),'e-','e-0'),'e+','e+0'),'\u2212','-')","title":["Z6","PEJK HH"]}}},"layer":[{"data":{"name":"r3N_o"},"mark":{"type":"line","color":"black","strokeWidth":2.5,"interpolate":"monotone","clip":true}},{"data":{"name":"r3N_s"},"mark":{"type":"line","color":"red","strokeWidth":2.5,"interpolate":"monotone","clip":true}},{"data":{"name":"vr"},"transform":[{"filter":"datum.p=='r3N'"}],"mark":{"type":"text","color":"blue","fontSize":13,"align":"right","baseline":"alphabetic","dx":-5,"dy":12.5},"encoding":{"x":{"value":"width"},"y":{"value":0},"text":{"field":"vr","type":"nominal"}}}]},
{"width":322.5,"height":49,"encoding":{"x":{"field":"t","type":"quantitative","scale":{"domain":[0,196.7],"nice":false,"zero":false},"axis":{"values":[0,25,50,75,100,125,150,175],"title":null}},"y":{"field":"v","type":"quantitative","scale":{"domain":[-2.75e-7,2.07e-7],"nice":false,"zero":false},"axis":{"values":[-2e-7,0,2e-7],"labelExpr":"replace(replace(replace(format(datum.value,'.1e'),'e-','e-0'),'e+','e+0'),'\u2212','-')","title":null}}},"layer":[{"data":{"name":"r3E_o"},"mark":{"type":"line","color":"black","strokeWidth":2.5,"interpolate":"monotone","clip":true}},{"data":{"name":"r3E_s"},"mark":{"type":"line","color":"red","strokeWidth":2.5,"interpolate":"monotone","clip":true}},{"data":{"name":"vr"},"transform":[{"filter":"datum.p=='r3E'"}],"mark":{"type":"text","color":"blue","fontSize":13,"align":"right","baseline":"alphabetic","dx":-5,"dy":12.5},"encoding":{"x":{"value":"width"},"y":{"value":0},"text":{"field":"vr","type":"nominal"}}}]},
{"width":322.5,"height":49,"encoding":{"x":{"field":"t","type":"quantitative","scale":{"domain":[0,196.7],"nice":false,"zero":false},"axis":{"values":[0,25,50,75,100,125,150,175],"title":null}},"y":{"field":"v","type":"quantitative","scale":{"domain":[-1.05e-7,1.32e-7],"nice":false,"zero":false},"axis":{"values":[-1e-7,0,1e-7],"labelExpr":"replace(replace(replace(format(datum.value,'.1e'),'e-','e-0'),'e+','e+0'),'\u2212','-')","title":null}}},"layer":[{"data":{"name":"r3Z_o"},"mark":{"type":"line","color":"black","strokeWidth":2.5,"interpolate":"monotone","clip":true}},{"data":{"name":"r3Z_s"},"mark":{"type":"line","color":"red","strokeWidth":2.5,"interpolate":"monotone","clip":true}},{"data":{"name":"vr"},"transform":[{"filter":"datum.p=='r3Z'"}],"mark":{"type":"text","color":"blue","fontSize":13,"align":"right","baseline":"alphabetic","dx":-5,"dy":12.5},"encoding":{"x":{"value":"width"},"y":{"value":0},"text":{"field":"vr","type":"nominal"}}}]},
{"width":322.5,"height":49,"encoding":{"x":{"field":"t","type":"quantitative","scale":{"domain":[0,196.7],"nice":false,"zero":false},"axis":{"values":[0,25,50,75,100,125,150,175],"title":null}},"y":{"field":"v","type":"quantitative","scale":{"domain":[-1.29e-7,1.16e-7],"nice":false,"zero":false},"axis":{"values":[-1e-7,0,1e-7],"labelExpr":"replace(replace(replace(format(datum.value,'.1e'),'e-','e-0'),'e+','e+0'),'\u2212','-')","title":["Z6","GMRK HH"]}}},"layer":[{"data":{"name":"r4N_u"},"mark":{"type":"line","color":"gray","strokeWidth":2.5,"interpolate":"monotone","clip":true}}]},
{"width":322.5,"height":49,"encoding":{"x":{"field":"t","type":"quantitative","scale":{"domain":[0,196.7],"nice":false,"zero":false},"axis":{"values":[0,25,50,75,100,125,150,175],"title":null}},"y":{"field":"v","type":"quantitative","scale":{"domain":[-1.24e-7,1.42e-7],"nice":false,"zero":false},"axis":{"values":[-1e-7,0,1e-7],"labelExpr":"replace(replace(replace(format(datum.value,'.1e'),'e-','e-0'),'e+','e+0'),'\u2212','-')","title":null}}},"layer":[{"data":{"name":"r4E_u"},"mark":{"type":"line","color":"gray","strokeWidth":2.5,"interpolate":"monotone","clip":true}}]},
{"width":322.5,"height":49,"encoding":{"x":{"field":"t","type":"quantitative","scale":{"domain":[0,196.7],"nice":false,"zero":false},"axis":{"values":[0,25,50,75,100,125,150,175],"title":null}},"y":{"field":"v","type":"quantitative","scale":{"domain":[-8.67e-8,6.22e-8],"nice":false,"zero":false},"axis":{"values":[-5e-8,0,5e-8],"labelExpr":"replace(replace(replace(format(datum.value,'.1e'),'e-','e-0'),'e+','e+0'),'\u2212','-')","title":null}}},"layer":[{"data":{"name":"r4Z_o"},"mark":{"type":"line","color":"black","strokeWidth":2.5,"interpolate":"monotone","clip":true}},{"data":{"name":"r4Z_s"},"mark":{"type":"line","color":"red","strokeWidth":2.5,"interpolate":"monotone","clip":true}},{"data":{"name":"vr"},"transform":[{"filter":"datum.p=='r4Z'"}],"mark":{"type":"text","color":"blue","fontSize":13,"align":"right","baseline":"alphabetic","dx":-5,"dy":12.5},"encoding":{"x":{"value":"width"},"y":{"value":0},"text":{"field":"vr","type":"nominal"}}}]},
{"width":322.5,"height":49,"encoding":{"x":{"field":"t","type":"quantitative","scale":{"domain":[0,196.7],"nice":false,"zero":false},"axis":{"values":[0,25,50,75,100,125,150,175],"title":null}},"y":{"field":"v","type":"quantitative","scale":{"domain":[-1.44e-7,1.89e-7],"nice":false,"zero":false},"axis":{"values":[-1e-7,0,1e-7],"labelExpr":"replace(replace(replace(format(datum.value,'.1e'),'e-','e-0'),'e+','e+0'),'\u2212','-')","title":["AC","LACI HH"]}}},"layer":[{"data":{"name":"r5N_u"},"mark":{"type":"line","color":"gray","strokeWidth":2.5,"interpolate":"monotone","clip":true}}]},
{"width":322.5,"height":49,"encoding":{"x":{"field":"t","type":"quantitative","scale":{"domain":[0,196.7],"nice":false,"zero":false},"axis":{"values":[0,25,50,75,100,125,150,175],"title":null}},"y":{"field":"v","type":"quantitative","scale":{"domain":[-1.12e-7,0.85e-7],"nice":false,"zero":false},"axis":{"values":[-1e-7,0],"labelExpr":"replace(replace(replace(format(datum.value,'.1e'),'e-','e-0'),'e+','e+0'),'\u2212','-')","title":null}}},"layer":[{"data":{"name":"r5E_u"},"mark":{"type":"line","color":"gray","strokeWidth":2.5,"interpolate":"monotone","clip":true}}]},
{"width":322.5,"height":49,"encoding":{"x":{"field":"t","type":"quantitative","scale":{"domain":[0,196.7],"nice":false,"zero":false},"axis":{"values":[0,25,50,75,100,125,150,175],"title":null}},"y":{"field":"v","type":"quantitative","scale":{"domain":[-5.79e-8,7.19e-8],"nice":false,"zero":false},"axis":{"values":[-5e-8,0,5e-8],"labelExpr":"replace(replace(replace(format(datum.value,'.1e'),'e-','e-0'),'e+','e+0'),'\u2212','-')","title":null}}},"layer":[{"data":{"name":"r5Z_o"},"mark":{"type":"line","color":"black","strokeWidth":2.5,"interpolate":"monotone","clip":true}},{"data":{"name":"r5Z_s"},"mark":{"type":"line","color":"red","strokeWidth":2.5,"interpolate":"monotone","clip":true}},{"data":{"name":"vr"},"transform":[{"filter":"datum.p=='r5Z'"}],"mark":{"type":"text","color":"blue","fontSize":13,"align":"right","baseline":"alphabetic","dx":-5,"dy":12.5},"encoding":{"x":{"value":"width"},"y":{"value":0},"text":{"field":"vr","type":"nominal"}}}]},
{"width":322.5,"height":49,"encoding":{"x":{"field":"t","type":"quantitative","scale":{"domain":[0,196.7],"nice":false,"zero":false},"axis":{"values":[0,25,50,75,100,125,150,175],"title":null}},"y":{"field":"v","type":"quantitative","scale":{"domain":[-4.11e-8,2.9e-8],"nice":false,"zero":false},"axis":{"values":[-2.5e-8,0,2.5e-8],"labelExpr":"replace(replace(replace(format(datum.value,'.1e'),'e-','e-0'),'e+','e+0'),'\u2212','-')","title":["Z6","AL01A HH"]}}},"layer":[{"data":{"name":"r6N_u"},"mark":{"type":"line","color":"gray","strokeWidth":2.5,"interpolate":"monotone","clip":true}}]},
{"width":322.5,"height":49,"encoding":{"x":{"field":"t","type":"quantitative","scale":{"domain":[0,196.7],"nice":false,"zero":false},"axis":{"values":[0,25,50,75,100,125,150,175],"title":null}},"y":{"field":"v","type":"quantitative","scale":{"domain":[-3.53e-6,2.93e-6],"nice":false,"zero":false},"axis":{"values":[-2.5e-6,0,2.5e-6],"labelExpr":"replace(replace(replace(format(datum.value,'.1e'),'e-','e-0'),'e+','e+0'),'\u2212','-')","title":null}}},"layer":[{"data":{"name":"r6E_o"},"mark":{"type":"line","color":"black","strokeWidth":2.5,"interpolate":"monotone","clip":true}},{"data":{"name":"r6E_s"},"mark":{"type":"line","color":"red","strokeWidth":2.5,"interpolate":"monotone","clip":true}},{"data":{"name":"vr"},"transform":[{"filter":"datum.p=='r6E'"}],"mark":{"type":"text","color":"blue","fontSize":13,"align":"right","baseline":"alphabetic","dx":-5,"dy":12.5},"encoding":{"x":{"value":"width"},"y":{"value":0},"text":{"field":"vr","type":"nominal"}}}]},
{"width":322.5,"height":49,"encoding":{"x":{"field":"t","type":"quantitative","scale":{"domain":[0,196.7],"nice":false,"zero":false},"axis":{"values":[0,25,50,75,100,125,150,175],"title":null}},"y":{"field":"v","type":"quantitative","scale":{"domain":[-1.34e-7,1.34e-7],"nice":false,"zero":false},"axis":{"values":[-1e-7,0,1e-7],"labelExpr":"replace(replace(replace(format(datum.value,'.1e'),'e-','e-0'),'e+','e+0'),'\u2212','-')","title":null}}},"layer":[{"data":{"name":"r6Z_o"},"mark":{"type":"line","color":"black","strokeWidth":2.5,"interpolate":"monotone","clip":true}},{"data":{"name":"r6Z_s"},"mark":{"type":"line","color":"red","strokeWidth":2.5,"interpolate":"monotone","clip":true}},{"data":{"name":"vr"},"transform":[{"filter":"datum.p=='r6Z'"}],"mark":{"type":"text","color":"blue","fontSize":13,"align":"right","baseline":"alphabetic","dx":-5,"dy":12.5},"encoding":{"x":{"value":"width"},"y":{"value":0},"text":{"field":"vr","type":"nominal"}}}]},
{"width":322.5,"height":49,"encoding":{"x":{"field":"t","type":"quantitative","scale":{"domain":[0,196.7],"nice":false,"zero":false},"axis":{"values":[0,25,50,75,100,125,150,175],"title":null}},"y":{"field":"v","type":"quantitative","scale":{"domain":[-2.08e-7,1.82e-7],"nice":false,"zero":false},"axis":{"values":[-2e-7,0],"labelExpr":"replace(replace(replace(format(datum.value,'.1e'),'e-','e-0'),'e+','e+0'),'\u2212','-')","title":["Z6","AL08A HH"]}}},"layer":[{"data":{"name":"r7N_o"},"mark":{"type":"line","color":"black","strokeWidth":2.5,"interpolate":"monotone","clip":true}},{"data":{"name":"r7N_s"},"mark":{"type":"line","color":"red","strokeWidth":2.5,"interpolate":"monotone","clip":true}},{"data":{"name":"vr"},"transform":[{"filter":"datum.p=='r7N'"}],"mark":{"type":"text","color":"blue","fontSize":13,"align":"right","baseline":"alphabetic","dx":-5,"dy":12.5},"encoding":{"x":{"value":"width"},"y":{"value":0},"text":{"field":"vr","type":"nominal"}}}]},
{"width":322.5,"height":49,"encoding":{"x":{"field":"t","type":"quantitative","scale":{"domain":[0,196.7],"nice":false,"zero":false},"axis":{"values":[0,25,50,75,100,125,150,175],"title":null}},"y":{"field":"v","type":"quantitative","scale":{"domain":[-5.19e-8,4.55e-8],"nice":false,"zero":false},"axis":{"values":[-5e-8,0],"labelExpr":"replace(replace(replace(format(datum.value,'.1e'),'e-','e-0'),'e+','e+0'),'\u2212','-')","title":null}}},"layer":[{"data":{"name":"r7E_u"},"mark":{"type":"line","color":"gray","strokeWidth":2.5,"interpolate":"monotone","clip":true}}]},
{"width":322.5,"height":49,"encoding":{"x":{"field":"t","type":"quantitative","scale":{"domain":[0,196.7],"nice":false,"zero":false},"axis":{"values":[0,25,50,75,100,125,150,175],"title":null}},"y":{"field":"v","type":"quantitative","scale":{"domain":[-6.61e-8,6.1e-8],"nice":false,"zero":false},"axis":{"values":[-5e-8,0,5e-8],"labelExpr":"replace(replace(replace(format(datum.value,'.1e'),'e-','e-0'),'e+','e+0'),'\u2212','-')","title":null}}},"layer":[{"data":{"name":"r7Z_o"},"mark":{"type":"line","color":"black","strokeWidth":2.5,"interpolate":"monotone","clip":true}},{"data":{"name":"r7Z_s"},"mark":{"type":"line","color":"red","strokeWidth":2.5,"interpolate":"monotone","clip":true}},{"data":{"name":"vr"},"transform":[{"filter":"datum.p=='r7Z'"}],"mark":{"type":"text","color":"blue","fontSize":13,"align":"right","baseline":"alphabetic","dx":-5,"dy":12.5},"encoding":{"x":{"value":"width"},"y":{"value":0},"text":{"field":"vr","type":"nominal"}}}]},
{"width":322.5,"height":49,"encoding":{"x":{"field":"t","type":"quantitative","scale":{"domain":[0,196.7],"nice":false,"zero":false},"axis":{"values":[0,25,50,75,100,125,150,175],"title":null}},"y":{"field":"v","type":"quantitative","scale":{"domain":[-3.35e-7,3.7e-7],"nice":false,"zero":false},"axis":{"values":[-2.5e-7,0,2.5e-7],"labelExpr":"replace(replace(replace(format(datum.value,'.1e'),'e-','e-0'),'e+','e+0'),'\u2212','-')","title":["SJ","SJES BH"]}}},"layer":[{"data":{"name":"r8N_o"},"mark":{"type":"line","color":"black","strokeWidth":2.5,"interpolate":"monotone","clip":true}},{"data":{"name":"r8N_s"},"mark":{"type":"line","color":"red","strokeWidth":2.5,"interpolate":"monotone","clip":true}},{"data":{"name":"vr"},"transform":[{"filter":"datum.p=='r8N'"}],"mark":{"type":"text","color":"blue","fontSize":13,"align":"right","baseline":"alphabetic","dx":-5,"dy":12.5},"encoding":{"x":{"value":"width"},"y":{"value":0},"text":{"field":"vr","type":"nominal"}}}]},
{"width":322.5,"height":49,"encoding":{"x":{"field":"t","type":"quantitative","scale":{"domain":[0,196.7],"nice":false,"zero":false},"axis":{"values":[0,25,50,75,100,125,150,175],"title":null}},"y":{"field":"v","type":"quantitative","scale":{"domain":[-2.1e-7,1.73e-7],"nice":false,"zero":false},"axis":{"values":[-2e-7,0],"labelExpr":"replace(replace(replace(format(datum.value,'.1e'),'e-','e-0'),'e+','e+0'),'\u2212','-')","title":null}}},"layer":[{"data":{"name":"r8E_o"},"mark":{"type":"line","color":"black","strokeWidth":2.5,"interpolate":"monotone","clip":true}},{"data":{"name":"r8E_s"},"mark":{"type":"line","color":"red","strokeWidth":2.5,"interpolate":"monotone","clip":true}},{"data":{"name":"vr"},"transform":[{"filter":"datum.p=='r8E'"}],"mark":{"type":"text","color":"blue","fontSize":13,"align":"right","baseline":"alphabetic","dx":-5,"dy":12.5},"encoding":{"x":{"value":"width"},"y":{"value":0},"text":{"field":"vr","type":"nominal"}}}]},
{"width":322.5,"height":49,"encoding":{"x":{"field":"t","type":"quantitative","scale":{"domain":[0,196.7],"nice":false,"zero":false},"axis":{"values":[0,25,50,75,100,125,150,175],"title":null}},"y":{"field":"v","type":"quantitative","scale":{"domain":[-9.88e-8,7.47e-8],"nice":false,"zero":false},"axis":{"values":[-5e-8,0,5e-8],"labelExpr":"replace(replace(replace(format(datum.value,'.1e'),'e-','e-0'),'e+','e+0'),'\u2212','-')","title":null}}},"layer":[{"data":{"name":"r8Z_o"},"mark":{"type":"line","color":"black","strokeWidth":2.5,"interpolate":"monotone","clip":true}},{"data":{"name":"r8Z_s"},"mark":{"type":"line","color":"red","strokeWidth":2.5,"interpolate":"monotone","clip":true}},{"data":{"name":"vr"},"transform":[{"filter":"datum.p=='r8Z'"}],"mark":{"type":"text","color":"blue","fontSize":13,"align":"right","baseline":"alphabetic","dx":-5,"dy":12.5},"encoding":{"x":{"value":"width"},"y":{"value":0},"text":{"field":"vr","type":"nominal"}}}]},
{"width":322.5,"height":49,"encoding":{"x":{"field":"t","type":"quantitative","scale":{"domain":[0,196.7],"nice":false,"zero":false},"axis":{"values":[0,25,50,75,100,125,150,175],"title":null}},"y":{"field":"v","type":"quantitative","scale":{"domain":[-2.77e-7,1.51e-7],"nice":false,"zero":false},"axis":{"values":[-2e-7,0],"labelExpr":"replace(replace(replace(format(datum.value,'.1e'),'e-','e-0'),'e+','e+0'),'\u2212','-')","title":["AC","KBN HH"]}}},"layer":[{"data":{"name":"r9N_o"},"mark":{"type":"line","color":"black","strokeWidth":2.5,"interpolate":"monotone","clip":true}},{"data":{"name":"r9N_s"},"mark":{"type":"line","color":"red","strokeWidth":2.5,"interpolate":"monotone","clip":true}},{"data":{"name":"vr"},"transform":[{"filter":"datum.p=='r9N'"}],"mark":{"type":"text","color":"blue","fontSize":13,"align":"right","baseline":"alphabetic","dx":-5,"dy":12.5},"encoding":{"x":{"value":"width"},"y":{"value":0},"text":{"field":"vr","type":"nominal"}}}]},
{"width":322.5,"height":49,"encoding":{"x":{"field":"t","type":"quantitative","scale":{"domain":[0,196.7],"nice":false,"zero":false},"axis":{"values":[0,25,50,75,100,125,150,175],"title":null}},"y":{"field":"v","type":"quantitative","scale":{"domain":[-3.88e-7,2.59e-7],"nice":false,"zero":false},"axis":{"values":[-2.5e-7,0,2.5e-7],"labelExpr":"replace(replace(replace(format(datum.value,'.1e'),'e-','e-0'),'e+','e+0'),'\u2212','-')","title":null}}},"layer":[{"data":{"name":"r9E_o"},"mark":{"type":"line","color":"black","strokeWidth":2.5,"interpolate":"monotone","clip":true}},{"data":{"name":"r9E_s"},"mark":{"type":"line","color":"red","strokeWidth":2.5,"interpolate":"monotone","clip":true}},{"data":{"name":"vr"},"transform":[{"filter":"datum.p=='r9E'"}],"mark":{"type":"text","color":"blue","fontSize":13,"align":"right","baseline":"alphabetic","dx":-5,"dy":12.5},"encoding":{"x":{"value":"width"},"y":{"value":0},"text":{"field":"vr","type":"nominal"}}}]},
{"width":322.5,"height":49,"encoding":{"x":{"field":"t","type":"quantitative","scale":{"domain":[0,196.7],"nice":false,"zero":false},"axis":{"values":[0,25,50,75,100,125,150,175],"title":null}},"y":{"field":"v","type":"quantitative","scale":{"domain":[-0.86e-7,1.06e-7],"nice":false,"zero":false},"axis":{"values":[0,1e-7],"labelExpr":"replace(replace(replace(format(datum.value,'.1e'),'e-','e-0'),'e+','e+0'),'\u2212','-')","title":null}}},"layer":[{"data":{"name":"r9Z_o"},"mark":{"type":"line","color":"black","strokeWidth":2.5,"interpolate":"monotone","clip":true}},{"data":{"name":"r9Z_s"},"mark":{"type":"line","color":"red","strokeWidth":2.5,"interpolate":"monotone","clip":true}},{"data":{"name":"vr"},"transform":[{"filter":"datum.p=='r9Z'"}],"mark":{"type":"text","color":"blue","fontSize":13,"align":"right","baseline":"alphabetic","dx":-5,"dy":12.5},"encoding":{"x":{"value":"width"},"y":{"value":0},"text":{"field":"vr","type":"nominal"}}}]},
{"width":322.5,"height":49,"encoding":{"x":{"field":"t","type":"quantitative","scale":{"domain":[0,196.7],"nice":false,"zero":false},"axis":{"values":[0,25,50,75,100,125,150,175],"title":null}},"y":{"field":"v","type":"quantitative","scale":{"domain":[-6.89e-8,7.08e-8],"nice":false,"zero":false},"axis":{"values":[-5e-8,0,5e-8],"labelExpr":"replace(replace(replace(format(datum.value,'.1e'),'e-','e-0'),'e+','e+0'),'\u2212','-')","title":["HL","KZN HH"]}}},"layer":[{"data":{"name":"r10N_o"},"mark":{"type":"line","color":"black","strokeWidth":2.5,"interpolate":"monotone","clip":true}},{"data":{"name":"r10N_s"},"mark":{"type":"line","color":"red","strokeWidth":2.5,"interpolate":"monotone","clip":true}},{"data":{"name":"vr"},"transform":[{"filter":"datum.p=='r10N'"}],"mark":{"type":"text","color":"blue","fontSize":13,"align":"right","baseline":"alphabetic","dx":-5,"dy":12.5},"encoding":{"x":{"value":"width"},"y":{"value":0},"text":{"field":"vr","type":"nominal"}}}]},
{"width":322.5,"height":49,"encoding":{"x":{"field":"t","type":"quantitative","scale":{"domain":[0,196.7],"nice":false,"zero":false},"axis":{"values":[0,25,50,75,100,125,150,175],"title":null}},"y":{"field":"v","type":"quantitative","scale":{"domain":[-1.25e-7,0.93e-7],"nice":false,"zero":false},"axis":{"values":[-1e-7,0],"labelExpr":"replace(replace(replace(format(datum.value,'.1e'),'e-','e-0'),'e+','e+0'),'\u2212','-')","title":null}}},"layer":[{"data":{"name":"r10E_u"},"mark":{"type":"line","color":"gray","strokeWidth":2.5,"interpolate":"monotone","clip":true}}]},
{"width":322.5,"height":49,"encoding":{"x":{"field":"t","type":"quantitative","scale":{"domain":[0,196.7],"nice":false,"zero":false},"axis":{"values":[0,25,50,75,100,125,150,175],"title":null}},"y":{"field":"v","type":"quantitative","scale":{"domain":[-7.68e-8,7.27e-8],"nice":false,"zero":false},"axis":{"values":[-5e-8,0,5e-8],"labelExpr":"replace(replace(replace(format(datum.value,'.1e'),'e-','e-0'),'e+','e+0'),'\u2212','-')","title":null}}},"layer":[{"data":{"name":"r10Z_o"},"mark":{"type":"line","color":"black","strokeWidth":2.5,"interpolate":"monotone","clip":true}},{"data":{"name":"r10Z_s"},"mark":{"type":"line","color":"red","strokeWidth":2.5,"interpolate":"monotone","clip":true}},{"data":{"name":"vr"},"transform":[{"filter":"datum.p=='r10Z'"}],"mark":{"type":"text","color":"blue","fontSize":13,"align":"right","baseline":"alphabetic","dx":-5,"dy":12.5},"encoding":{"x":{"value":"width"},"y":{"value":0},"text":{"field":"vr","type":"nominal"}}}]},
{"width":322.5,"height":49,"encoding":{"x":{"field":"t","type":"quantitative","scale":{"domain":[0,196.7],"nice":false,"zero":false},"axis":{"values":[0,25,50,75,100,125,150,175],"title":null}},"y":{"field":"v","type":"quantitative","scale":{"domain":[-2.27e-8,3.31e-8],"nice":false,"zero":false},"axis":{"values":[-2e-8,0,2e-8],"labelExpr":"replace(replace(replace(format(datum.value,'.1e'),'e-','e-0'),'e+','e+0'),'\u2212','-')","title":["Z6","AL06A HH"]}}},"layer":[{"data":{"name":"r11N_u"},"mark":{"type":"line","color":"gray","strokeWidth":2.5,"interpolate":"monotone","clip":true}}]},
{"width":322.5,"height":49,"encoding":{"x":{"field":"t","type":"quantitative","scale":{"domain":[0,196.7],"nice":false,"zero":false},"axis":{"values":[0,25,50,75,100,125,150,175],"title":null}},"y":{"field":"v","type":"quantitative","scale":{"domain":[-2.13e-6,2.25e-6],"nice":false,"zero":false},"axis":{"values":[-2e-6,0,2e-6],"labelExpr":"replace(replace(replace(format(datum.value,'.1e'),'e-','e-0'),'e+','e+0'),'\u2212','-')","title":null}}},"layer":[{"data":{"name":"r11E_o"},"mark":{"type":"line","color":"black","strokeWidth":2.5,"interpolate":"monotone","clip":true}},{"data":{"name":"r11E_s"},"mark":{"type":"line","color":"red","strokeWidth":2.5,"interpolate":"monotone","clip":true}},{"data":{"name":"vr"},"transform":[{"filter":"datum.p=='r11E'"}],"mark":{"type":"text","color":"blue","fontSize":13,"align":"right","baseline":"alphabetic","dx":-5,"dy":12.5},"encoding":{"x":{"value":"width"},"y":{"value":0},"text":{"field":"vr","type":"nominal"}}}]},
{"width":322.5,"height":49,"encoding":{"x":{"field":"t","type":"quantitative","scale":{"domain":[0,196.7],"nice":false,"zero":false},"axis":{"values":[0,25,50,75,100,125,150,175],"title":null}},"y":{"field":"v","type":"quantitative","scale":{"domain":[-5.28e-8,6.56e-8],"nice":false,"zero":false},"axis":{"values":[-5e-8,0,5e-8],"labelExpr":"replace(replace(replace(format(datum.value,'.1e'),'e-','e-0'),'e+','e+0'),'\u2212','-')","title":null}}},"layer":[{"data":{"name":"r11Z_o"},"mark":{"type":"line","color":"black","strokeWidth":2.5,"interpolate":"monotone","clip":true}},{"data":{"name":"r11Z_s"},"mark":{"type":"line","color":"red","strokeWidth":2.5,"interpolate":"monotone","clip":true}},{"data":{"name":"vr"},"transform":[{"filter":"datum.p=='r11Z'"}],"mark":{"type":"text","color":"blue","fontSize":13,"align":"right","baseline":"alphabetic","dx":-5,"dy":12.5},"encoding":{"x":{"value":"width"},"y":{"value":0},"text":{"field":"vr","type":"nominal"}}}]},
{"width":322.5,"height":49,"encoding":{"x":{"field":"t","type":"quantitative","scale":{"domain":[0,196.7],"nice":false,"zero":false},"axis":{"values":[0,25,50,75,100,125,150,175],"title":null}},"y":{"field":"v","type":"quantitative","scale":{"domain":[-1.44e-6,1.28e-6],"nice":false,"zero":false},"axis":{"values":[-1e-6,0,1e-6],"labelExpr":"replace(replace(replace(format(datum.value,'.1e'),'e-','e-0'),'e+','e+0'),'\u2212','-')","title":["HT","THE HH"]}}},"layer":[{"data":{"name":"r12N_o"},"mark":{"type":"line","color":"black","strokeWidth":2.5,"interpolate":"monotone","clip":true}},{"data":{"name":"r12N_s"},"mark":{"type":"line","color":"red","strokeWidth":2.5,"interpolate":"monotone","clip":true}},{"data":{"name":"vr"},"transform":[{"filter":"datum.p=='r12N'"}],"mark":{"type":"text","color":"blue","fontSize":13,"align":"right","baseline":"alphabetic","dx":-5,"dy":12.5},"encoding":{"x":{"value":"width"},"y":{"value":0},"text":{"field":"vr","type":"nominal"}}}]},
{"width":322.5,"height":49,"encoding":{"x":{"field":"t","type":"quantitative","scale":{"domain":[0,196.7],"nice":false,"zero":false},"axis":{"values":[0,25,50,75,100,125,150,175],"title":null}},"y":{"field":"v","type":"quantitative","scale":{"domain":[-4.2e-6,4.25e-6],"nice":false,"zero":false},"axis":{"values":[-2.5e-6,0,2.5e-6],"labelExpr":"replace(replace(replace(format(datum.value,'.1e'),'e-','e-0'),'e+','e+0'),'\u2212','-')","title":null}}},"layer":[{"data":{"name":"r12E_o"},"mark":{"type":"line","color":"black","strokeWidth":2.5,"interpolate":"monotone","clip":true}},{"data":{"name":"r12E_s"},"mark":{"type":"line","color":"red","strokeWidth":2.5,"interpolate":"monotone","clip":true}},{"data":{"name":"vr"},"transform":[{"filter":"datum.p=='r12E'"}],"mark":{"type":"text","color":"blue","fontSize":13,"align":"right","baseline":"alphabetic","dx":-5,"dy":12.5},"encoding":{"x":{"value":"width"},"y":{"value":0},"text":{"field":"vr","type":"nominal"}}}]},
{"width":322.5,"height":49,"encoding":{"x":{"field":"t","type":"quantitative","scale":{"domain":[0,196.7],"nice":false,"zero":false},"axis":{"values":[0,25,50,75,100,125,150,175],"title":null}},"y":{"field":"v","type":"quantitative","scale":{"domain":[-2.81e-6,2.63e-6],"nice":false,"zero":false},"axis":{"values":[-2e-6,0,2e-6],"labelExpr":"replace(replace(replace(format(datum.value,'.1e'),'e-','e-0'),'e+','e+0'),'\u2212','-')","title":null}}},"layer":[{"data":{"name":"r12Z_o"},"mark":{"type":"line","color":"black","strokeWidth":2.5,"interpolate":"monotone","clip":true}},{"data":{"name":"r12Z_s"},"mark":{"type":"line","color":"red","strokeWidth":2.5,"interpolate":"monotone","clip":true}},{"data":{"name":"vr"},"transform":[{"filter":"datum.p=='r12Z'"}],"mark":{"type":"text","color":"blue","fontSize":13,"align":"right","baseline":"alphabetic","dx":-5,"dy":12.5},"encoding":{"x":{"value":"width"},"y":{"value":0},"text":{"field":"vr","type":"nominal"}}}]},
{"width":322.5,"height":49,"encoding":{"x":{"field":"t","type":"quantitative","scale":{"domain":[0,196.7],"nice":false,"zero":false},"axis":{"values":[0,25,50,75,100,125,150,175],"title":"sec","titleFontSize":10,"titlePadding":10}},"y":{"field":"v","type":"quantitative","scale":{"domain":[-5.0e-8,3.72e-8],"nice":false,"zero":false},"axis":{"values":[-2.5e-8,0,2.5e-8],"labelExpr":"replace(replace(replace(format(datum.value,'.1e'),'e-','e-0'),'e+','e+0'),'\u2212','-')","title":["HL","PLG HH"]}}},"layer":[{"data":{"name":"r13N_u"},"mark":{"type":"line","color":"gray","strokeWidth":2.5,"interpolate":"monotone","clip":true}}]},
{"width":322.5,"height":49,"encoding":{"x":{"field":"t","type":"quantitative","scale":{"domain":[0,196.7],"nice":false,"zero":false},"axis":{"values":[0,25,50,75,100,125,150,175],"title":"sec","titleFontSize":10,"titlePadding":10}},"y":{"field":"v","type":"quantitative","scale":{"domain":[-7.08e-8,6.19e-8],"nice":false,"zero":false},"axis":{"values":[-5e-8,0,5e-8],"labelExpr":"replace(replace(replace(format(datum.value,'.1e'),'e-','e-0'),'e+','e+0'),'\u2212','-')","title":null}}},"layer":[{"data":{"name":"r13E_u"},"mark":{"type":"line","color":"gray","strokeWidth":2.5,"interpolate":"monotone","clip":true}}]},
{"width":322.5,"height":49,"encoding":{"x":{"field":"t","type":"quantitative","scale":{"domain":[0,196.7],"nice":false,"zero":false},"axis":{"values":[0,25,50,75,100,125,150,175],"title":"sec","titleFontSize":10,"titlePadding":10}},"y":{"field":"v","type":"quantitative","scale":{"domain":[-7.43e-8,7.43e-8],"nice":false,"zero":false},"axis":{"values":[-5e-8,0,5e-8],"labelExpr":"replace(replace(replace(format(datum.value,'.1e'),'e-','e-0'),'e+','e+0'),'\u2212','-')","title":null}}},"layer":[{"data":{"name":"r13Z_o"},"mark":{"type":"line","color":"black","strokeWidth":2.5,"interpolate":"monotone","clip":true}},{"data":{"name":"r13Z_s"},"mark":{"type":"line","color":"red","strokeWidth":2.5,"interpolate":"monotone","clip":true}},{"data":{"name":"vr"},"transform":[{"filter":"datum.p=='r13Z'"}],"mark":{"type":"text","color":"blue","fontSize":13,"align":"right","baseline":"alphabetic","dx":-5,"dy":12.5},"encoding":{"x":{"value":"width"},"y":{"value":0},"text":{"field":"vr","type":"nominal"}}}]}
]
}
